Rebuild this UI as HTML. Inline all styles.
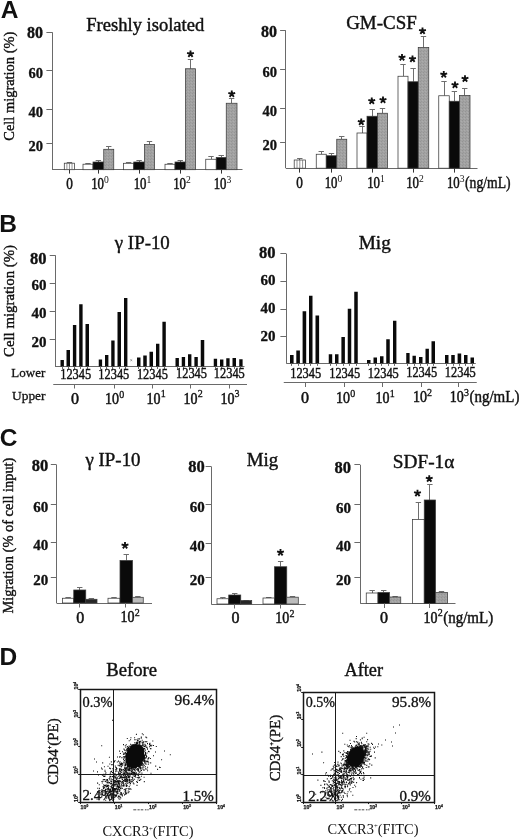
<!DOCTYPE html>
<html><head><meta charset="utf-8"><title>Figure</title>
<style>html,body{margin:0;padding:0;background:#fff}svg{display:block;filter:grayscale(1)}text{fill:#111}</style></head><body>
<svg width="520" height="840" viewBox="0 0 520 840">
<defs><pattern id="stip" width="3" height="3" patternUnits="userSpaceOnUse"><rect width="3" height="3" fill="#a2a2a2"/><rect x="0" y="0" width="1" height="1" fill="#949494"/><rect x="2" y="1" width="1" height="1" fill="#acacac"/><rect x="1" y="2" width="1" height="1" fill="#989898"/></pattern></defs>
<rect width="520" height="840" fill="#fff"/>
<text x="0.7" y="18.1" font-family='"Liberation Sans", sans-serif' font-size="24.5" font-weight="bold">A</text>
<text x="-0.8" y="231.8" font-family='"Liberation Sans", sans-serif' font-size="24.5" font-weight="bold">B</text>
<text x="-0.2" y="445.5" font-family='"Liberation Sans", sans-serif' font-size="24.5" font-weight="bold">C</text>
<text x="-0.5" y="664.6" font-family='"Liberation Sans", sans-serif' font-size="24.5" font-weight="bold">D</text>
<line x1="52.50" y1="32.20" x2="52.50" y2="169.70" stroke="#6a6a6a" stroke-width="1"/>
<line x1="46.40" y1="32.50" x2="52.20" y2="32.50" stroke="#6a6a6a" stroke-width="1"/>
<text x="43.00" y="38.16" font-family='"Liberation Serif", serif' font-size="16" font-weight="bold" text-anchor="end" stroke="#111" stroke-width="0.35">80</text>
<line x1="46.40" y1="70.50" x2="52.20" y2="70.50" stroke="#6a6a6a" stroke-width="1"/>
<text x="43.00" y="78.10" font-family='"Liberation Serif", serif' font-size="14.5" font-weight="bold" text-anchor="end" stroke="#111" stroke-width="0.32">60</text>
<line x1="46.40" y1="109.50" x2="52.20" y2="109.50" stroke="#6a6a6a" stroke-width="1"/>
<text x="43.00" y="116.60" font-family='"Liberation Serif", serif' font-size="14.5" font-weight="bold" text-anchor="end" stroke="#111" stroke-width="0.32">40</text>
<line x1="46.40" y1="143.50" x2="52.20" y2="143.50" stroke="#6a6a6a" stroke-width="1"/>
<text x="43.00" y="150.90" font-family='"Liberation Serif", serif' font-size="14.5" font-weight="bold" text-anchor="end" stroke="#111" stroke-width="0.32">20</text>
<line x1="52.00" y1="169.50" x2="242.50" y2="169.50" stroke="#6a6a6a" stroke-width="1"/>
<text transform="translate(14.40,86.20) rotate(-90)" font-family='"Liberation Serif", serif' font-size="15.5" font-weight="normal" text-anchor="middle" stroke="#111" stroke-width="0.4" textLength="109" lengthAdjust="spacingAndGlyphs">Cell migration (%)</text>
<text x="86.25" y="30.80" font-family='"Liberation Serif", serif' font-size="18.5" font-weight="normal" text-anchor="start" textLength="118" lengthAdjust="spacingAndGlyphs" stroke="#111" stroke-width="0.41">Freshly isolated</text>
<line x1="69.50" y1="162.00" x2="69.50" y2="163.20" stroke="#6e6e6e" stroke-width="1"/>
<line x1="66.75" y1="162.50" x2="72.15" y2="162.50" stroke="#6e6e6e" stroke-width="1"/>
<rect x="64.30" y="163.20" width="10.30" height="6.50" fill="#fff" stroke="#3a3a3a" stroke-width="0.75"/>
<line x1="66.88" y1="163.20" x2="66.88" y2="169.70" stroke="#666" stroke-width="0.7"/>
<line x1="69.45" y1="163.20" x2="69.45" y2="169.70" stroke="#666" stroke-width="0.7"/>
<line x1="72.02" y1="163.20" x2="72.02" y2="169.70" stroke="#666" stroke-width="0.7"/>
<line x1="88.50" y1="163.00" x2="88.50" y2="164.20" stroke="#6e6e6e" stroke-width="1"/>
<line x1="85.30" y1="163.50" x2="90.70" y2="163.50" stroke="#6e6e6e" stroke-width="1"/>
<rect x="83.00" y="164.20" width="10.00" height="5.50" fill="#fff" stroke="#3a3a3a" stroke-width="0.75"/>
<line x1="98.50" y1="160.50" x2="98.50" y2="162.00" stroke="#6e6e6e" stroke-width="1"/>
<line x1="95.67" y1="160.50" x2="101.08" y2="160.50" stroke="#6e6e6e" stroke-width="1"/>
<rect x="93.00" y="162.00" width="10.75" height="7.70" fill="#0a0a0a" stroke="#3a3a3a" stroke-width="0.75"/>
<line x1="108.50" y1="146.30" x2="108.50" y2="149.30" stroke="#6e6e6e" stroke-width="1"/>
<line x1="106.05" y1="146.50" x2="111.45" y2="146.50" stroke="#6e6e6e" stroke-width="1"/>
<rect x="103.75" y="149.30" width="10.00" height="20.40" fill="url(#stip)" stroke="#3a3a3a" stroke-width="0.75"/>
<line x1="128.50" y1="162.20" x2="128.50" y2="163.30" stroke="#6e6e6e" stroke-width="1"/>
<line x1="125.92" y1="162.50" x2="131.32" y2="162.50" stroke="#6e6e6e" stroke-width="1"/>
<rect x="123.50" y="163.30" width="10.25" height="6.40" fill="#fff" stroke="#3a3a3a" stroke-width="0.75"/>
<line x1="139.50" y1="160.50" x2="139.50" y2="162.00" stroke="#6e6e6e" stroke-width="1"/>
<line x1="136.43" y1="160.50" x2="141.82" y2="160.50" stroke="#6e6e6e" stroke-width="1"/>
<rect x="133.75" y="162.00" width="10.75" height="7.70" fill="#0a0a0a" stroke="#3a3a3a" stroke-width="0.75"/>
<line x1="149.50" y1="141.50" x2="149.50" y2="144.50" stroke="#6e6e6e" stroke-width="1"/>
<line x1="146.80" y1="141.50" x2="152.20" y2="141.50" stroke="#6e6e6e" stroke-width="1"/>
<rect x="144.50" y="144.50" width="10.00" height="25.20" fill="url(#stip)" stroke="#3a3a3a" stroke-width="0.75"/>
<line x1="170.50" y1="163.00" x2="170.50" y2="164.25" stroke="#6e6e6e" stroke-width="1"/>
<line x1="167.30" y1="163.50" x2="172.70" y2="163.50" stroke="#6e6e6e" stroke-width="1"/>
<rect x="165.00" y="164.25" width="10.00" height="5.45" fill="#fff" stroke="#3a3a3a" stroke-width="0.75"/>
<line x1="180.50" y1="160.50" x2="180.50" y2="162.00" stroke="#6e6e6e" stroke-width="1"/>
<line x1="177.55" y1="160.50" x2="182.95" y2="160.50" stroke="#6e6e6e" stroke-width="1"/>
<rect x="175.00" y="162.00" width="10.50" height="7.70" fill="#0a0a0a" stroke="#3a3a3a" stroke-width="0.75"/>
<line x1="190.50" y1="59.25" x2="190.50" y2="68.75" stroke="#6e6e6e" stroke-width="1"/>
<line x1="187.80" y1="59.50" x2="193.20" y2="59.50" stroke="#6e6e6e" stroke-width="1"/>
<rect x="185.50" y="68.75" width="10.00" height="100.95" fill="url(#stip)" stroke="#3a3a3a" stroke-width="0.75"/>
<line x1="211.50" y1="156.50" x2="211.50" y2="159.25" stroke="#6e6e6e" stroke-width="1"/>
<line x1="208.30" y1="156.50" x2="213.70" y2="156.50" stroke="#6e6e6e" stroke-width="1"/>
<rect x="205.75" y="159.25" width="10.50" height="10.45" fill="#fff" stroke="#3a3a3a" stroke-width="0.75"/>
<line x1="221.50" y1="155.00" x2="221.50" y2="157.50" stroke="#6e6e6e" stroke-width="1"/>
<line x1="218.55" y1="155.50" x2="223.95" y2="155.50" stroke="#6e6e6e" stroke-width="1"/>
<rect x="216.25" y="157.50" width="10.00" height="12.20" fill="#0a0a0a" stroke="#3a3a3a" stroke-width="0.75"/>
<line x1="231.50" y1="98.00" x2="231.50" y2="103.25" stroke="#6e6e6e" stroke-width="1"/>
<line x1="228.93" y1="98.50" x2="234.32" y2="98.50" stroke="#6e6e6e" stroke-width="1"/>
<rect x="226.25" y="103.25" width="10.75" height="66.45" fill="url(#stip)" stroke="#3a3a3a" stroke-width="0.75"/>
<line x1="69.50" y1="169.70" x2="69.50" y2="173.60" stroke="#333" stroke-width="1"/>
<line x1="98.50" y1="169.70" x2="98.50" y2="173.60" stroke="#333" stroke-width="1"/>
<line x1="139.50" y1="169.70" x2="139.50" y2="173.60" stroke="#333" stroke-width="1"/>
<line x1="180.50" y1="169.70" x2="180.50" y2="173.60" stroke="#333" stroke-width="1"/>
<line x1="221.50" y1="169.70" x2="221.50" y2="173.60" stroke="#333" stroke-width="1"/>
<text x="69.50" y="189.00" font-family='"Liberation Serif", serif' font-size="16" font-weight="normal" text-anchor="middle" textLength="6.6" lengthAdjust="spacingAndGlyphs" stroke="#111" stroke-width="0.51">0</text>
<text x="91.22" y="189.00" font-family='"Liberation Serif", serif' font-size="16" font-weight="normal" text-anchor="start" textLength="12.8" lengthAdjust="spacingAndGlyphs" stroke="#111" stroke-width="0.51">10</text>
<text x="104.12" y="182.76" font-family='"Liberation Serif", serif' font-size="9.5" font-weight="normal" text-anchor="start" textLength="4.8" lengthAdjust="spacingAndGlyphs">0</text>
<text x="133.72" y="189.00" font-family='"Liberation Serif", serif' font-size="16" font-weight="normal" text-anchor="start" textLength="12.8" lengthAdjust="spacingAndGlyphs" stroke="#111" stroke-width="0.51">10</text>
<text x="146.62" y="182.76" font-family='"Liberation Serif", serif' font-size="9.5" font-weight="normal" text-anchor="start" textLength="4.8" lengthAdjust="spacingAndGlyphs">1</text>
<text x="173.22" y="189.00" font-family='"Liberation Serif", serif' font-size="16" font-weight="normal" text-anchor="start" textLength="12.8" lengthAdjust="spacingAndGlyphs" stroke="#111" stroke-width="0.51">10</text>
<text x="186.12" y="182.76" font-family='"Liberation Serif", serif' font-size="9.5" font-weight="normal" text-anchor="start" textLength="4.8" lengthAdjust="spacingAndGlyphs">2</text>
<text x="213.72" y="189.00" font-family='"Liberation Serif", serif' font-size="16" font-weight="normal" text-anchor="start" textLength="12.8" lengthAdjust="spacingAndGlyphs" stroke="#111" stroke-width="0.51">10</text>
<text x="226.62" y="182.76" font-family='"Liberation Serif", serif' font-size="9.5" font-weight="normal" text-anchor="start" textLength="4.8" lengthAdjust="spacingAndGlyphs">3</text>
<path d="M190.50 54.00L190.50 50.40M190.50 54.00L193.92 52.89M190.50 54.00L192.62 56.91M190.50 54.00L188.38 56.91M190.50 54.00L187.08 52.89" stroke="#111" stroke-width="1.85" stroke-linecap="butt" fill="none"/>
<path d="M231.75 94.00L231.75 90.40M231.75 94.00L235.17 92.89M231.75 94.00L233.87 96.91M231.75 94.00L229.63 96.91M231.75 94.00L228.33 92.89" stroke="#111" stroke-width="1.85" stroke-linecap="butt" fill="none"/>
<line x1="285.50" y1="30.80" x2="285.50" y2="168.20" stroke="#6a6a6a" stroke-width="1"/>
<line x1="280.10" y1="30.50" x2="285.90" y2="30.50" stroke="#6a6a6a" stroke-width="1"/>
<text x="277.00" y="37.11" font-family='"Liberation Serif", serif' font-size="16" font-weight="bold" text-anchor="end" stroke="#111" stroke-width="0.35">80</text>
<line x1="280.10" y1="69.50" x2="285.90" y2="69.50" stroke="#6a6a6a" stroke-width="1"/>
<text x="277.00" y="76.90" font-family='"Liberation Serif", serif' font-size="14.5" font-weight="bold" text-anchor="end" stroke="#111" stroke-width="0.32">60</text>
<line x1="280.10" y1="108.50" x2="285.90" y2="108.50" stroke="#6a6a6a" stroke-width="1"/>
<text x="277.00" y="115.50" font-family='"Liberation Serif", serif' font-size="14.5" font-weight="bold" text-anchor="end" stroke="#111" stroke-width="0.32">40</text>
<line x1="280.10" y1="142.50" x2="285.90" y2="142.50" stroke="#6a6a6a" stroke-width="1"/>
<text x="277.00" y="149.90" font-family='"Liberation Serif", serif' font-size="14.5" font-weight="bold" text-anchor="end" stroke="#111" stroke-width="0.32">20</text>
<line x1="285.90" y1="168.50" x2="477.50" y2="168.50" stroke="#6a6a6a" stroke-width="1"/>
<text x="346.20" y="29.40" font-family='"Liberation Serif", serif' font-size="18.5" font-weight="normal" text-anchor="start" textLength="70.5" lengthAdjust="spacingAndGlyphs" stroke="#111" stroke-width="0.41">GM-CSF</text>
<line x1="299.50" y1="158.50" x2="299.50" y2="160.00" stroke="#6e6e6e" stroke-width="1"/>
<line x1="297.10" y1="158.50" x2="302.50" y2="158.50" stroke="#6e6e6e" stroke-width="1"/>
<rect x="294.20" y="160.00" width="11.20" height="8.20" fill="#fff" stroke="#3a3a3a" stroke-width="0.75"/>
<line x1="297.00" y1="160.00" x2="297.00" y2="168.20" stroke="#666" stroke-width="0.7"/>
<line x1="299.80" y1="160.00" x2="299.80" y2="168.20" stroke="#666" stroke-width="0.7"/>
<line x1="302.60" y1="160.00" x2="302.60" y2="168.20" stroke="#666" stroke-width="0.7"/>
<line x1="321.50" y1="151.50" x2="321.50" y2="154.25" stroke="#6e6e6e" stroke-width="1"/>
<line x1="318.55" y1="151.50" x2="323.95" y2="151.50" stroke="#6e6e6e" stroke-width="1"/>
<rect x="316.25" y="154.25" width="10.00" height="13.95" fill="#fff" stroke="#3a3a3a" stroke-width="0.75"/>
<line x1="331.50" y1="153.50" x2="331.50" y2="155.75" stroke="#6e6e6e" stroke-width="1"/>
<line x1="328.80" y1="153.50" x2="334.20" y2="153.50" stroke="#6e6e6e" stroke-width="1"/>
<rect x="326.25" y="155.75" width="10.50" height="12.45" fill="#0a0a0a" stroke="#3a3a3a" stroke-width="0.75"/>
<line x1="341.50" y1="136.00" x2="341.50" y2="139.25" stroke="#6e6e6e" stroke-width="1"/>
<line x1="339.05" y1="136.50" x2="344.45" y2="136.50" stroke="#6e6e6e" stroke-width="1"/>
<rect x="336.75" y="139.25" width="10.00" height="28.95" fill="url(#stip)" stroke="#3a3a3a" stroke-width="0.75"/>
<line x1="362.50" y1="126.50" x2="362.50" y2="133.00" stroke="#6e6e6e" stroke-width="1"/>
<line x1="359.30" y1="126.50" x2="364.70" y2="126.50" stroke="#6e6e6e" stroke-width="1"/>
<rect x="357.00" y="133.00" width="10.00" height="35.20" fill="#fff" stroke="#3a3a3a" stroke-width="0.75"/>
<line x1="372.50" y1="109.00" x2="372.50" y2="116.25" stroke="#6e6e6e" stroke-width="1"/>
<line x1="369.55" y1="109.50" x2="374.95" y2="109.50" stroke="#6e6e6e" stroke-width="1"/>
<rect x="367.00" y="116.25" width="10.50" height="51.95" fill="#0a0a0a" stroke="#3a3a3a" stroke-width="0.75"/>
<line x1="382.50" y1="108.00" x2="382.50" y2="113.25" stroke="#6e6e6e" stroke-width="1"/>
<line x1="379.80" y1="108.50" x2="385.20" y2="108.50" stroke="#6e6e6e" stroke-width="1"/>
<rect x="377.50" y="113.25" width="10.00" height="54.95" fill="url(#stip)" stroke="#3a3a3a" stroke-width="0.75"/>
<line x1="403.50" y1="64.50" x2="403.50" y2="76.25" stroke="#6e6e6e" stroke-width="1"/>
<line x1="400.30" y1="64.50" x2="405.70" y2="64.50" stroke="#6e6e6e" stroke-width="1"/>
<rect x="398.00" y="76.25" width="10.00" height="91.95" fill="#fff" stroke="#3a3a3a" stroke-width="0.75"/>
<line x1="413.50" y1="68.00" x2="413.50" y2="81.75" stroke="#6e6e6e" stroke-width="1"/>
<line x1="410.43" y1="68.50" x2="415.82" y2="68.50" stroke="#6e6e6e" stroke-width="1"/>
<rect x="408.00" y="81.75" width="10.25" height="86.45" fill="#0a0a0a" stroke="#3a3a3a" stroke-width="0.75"/>
<line x1="423.50" y1="36.25" x2="423.50" y2="47.50" stroke="#6e6e6e" stroke-width="1"/>
<line x1="420.80" y1="36.50" x2="426.20" y2="36.50" stroke="#6e6e6e" stroke-width="1"/>
<rect x="418.25" y="47.50" width="10.50" height="120.70" fill="url(#stip)" stroke="#3a3a3a" stroke-width="0.75"/>
<line x1="444.50" y1="81.25" x2="444.50" y2="95.75" stroke="#6e6e6e" stroke-width="1"/>
<line x1="441.30" y1="81.50" x2="446.70" y2="81.50" stroke="#6e6e6e" stroke-width="1"/>
<rect x="438.75" y="95.75" width="10.50" height="72.45" fill="#fff" stroke="#3a3a3a" stroke-width="0.75"/>
<line x1="454.50" y1="91.75" x2="454.50" y2="101.25" stroke="#6e6e6e" stroke-width="1"/>
<line x1="451.68" y1="91.50" x2="457.07" y2="91.50" stroke="#6e6e6e" stroke-width="1"/>
<rect x="449.25" y="101.25" width="10.25" height="66.95" fill="#0a0a0a" stroke="#3a3a3a" stroke-width="0.75"/>
<line x1="464.50" y1="88.00" x2="464.50" y2="95.50" stroke="#6e6e6e" stroke-width="1"/>
<line x1="462.05" y1="88.50" x2="467.45" y2="88.50" stroke="#6e6e6e" stroke-width="1"/>
<rect x="459.50" y="95.50" width="10.50" height="72.70" fill="url(#stip)" stroke="#3a3a3a" stroke-width="0.75"/>
<line x1="299.50" y1="168.20" x2="299.50" y2="172.60" stroke="#333" stroke-width="1"/>
<line x1="331.50" y1="168.20" x2="331.50" y2="172.60" stroke="#333" stroke-width="1"/>
<line x1="372.50" y1="168.20" x2="372.50" y2="172.60" stroke="#333" stroke-width="1"/>
<line x1="413.50" y1="168.20" x2="413.50" y2="172.60" stroke="#333" stroke-width="1"/>
<line x1="454.50" y1="168.20" x2="454.50" y2="172.60" stroke="#333" stroke-width="1"/>
<text x="299.60" y="188.00" font-family='"Liberation Serif", serif' font-size="16" font-weight="normal" text-anchor="middle" textLength="6.6" lengthAdjust="spacingAndGlyphs" stroke="#111" stroke-width="0.51">0</text>
<text x="324.72" y="188.00" font-family='"Liberation Serif", serif' font-size="16" font-weight="normal" text-anchor="start" textLength="12.8" lengthAdjust="spacingAndGlyphs" stroke="#111" stroke-width="0.51">10</text>
<text x="337.62" y="181.76" font-family='"Liberation Serif", serif' font-size="9.5" font-weight="normal" text-anchor="start" textLength="4.8" lengthAdjust="spacingAndGlyphs">0</text>
<text x="367.22" y="188.00" font-family='"Liberation Serif", serif' font-size="16" font-weight="normal" text-anchor="start" textLength="12.8" lengthAdjust="spacingAndGlyphs" stroke="#111" stroke-width="0.51">10</text>
<text x="380.12" y="181.76" font-family='"Liberation Serif", serif' font-size="9.5" font-weight="normal" text-anchor="start" textLength="4.8" lengthAdjust="spacingAndGlyphs">1</text>
<text x="406.22" y="188.00" font-family='"Liberation Serif", serif' font-size="16" font-weight="normal" text-anchor="start" textLength="12.8" lengthAdjust="spacingAndGlyphs" stroke="#111" stroke-width="0.51">10</text>
<text x="419.12" y="181.76" font-family='"Liberation Serif", serif' font-size="9.5" font-weight="normal" text-anchor="start" textLength="4.8" lengthAdjust="spacingAndGlyphs">2</text>
<text x="446.92" y="188.00" font-family='"Liberation Serif", serif' font-size="16" font-weight="normal" text-anchor="start" textLength="12.8" lengthAdjust="spacingAndGlyphs" stroke="#111" stroke-width="0.51">10</text>
<text x="459.82" y="181.76" font-family='"Liberation Serif", serif' font-size="9.5" font-weight="normal" text-anchor="start" textLength="4.8" lengthAdjust="spacingAndGlyphs">3</text>
<text x="465.07" y="188.00" font-family='"Liberation Serif", serif' font-size="16" font-weight="normal" text-anchor="start" textLength="45.5" lengthAdjust="spacingAndGlyphs" stroke="#111" stroke-width="0.42">(ng/mL)</text>
<path d="M361.25 122.00L361.25 118.40M361.25 122.00L364.67 120.89M361.25 122.00L363.37 124.91M361.25 122.00L359.13 124.91M361.25 122.00L357.83 120.89" stroke="#111" stroke-width="1.85" stroke-linecap="butt" fill="none"/>
<path d="M371.75 101.00L371.75 97.40M371.75 101.00L375.17 99.89M371.75 101.00L373.87 103.91M371.75 101.00L369.63 103.91M371.75 101.00L368.33 99.89" stroke="#111" stroke-width="1.85" stroke-linecap="butt" fill="none"/>
<path d="M383.00 100.00L383.00 96.40M383.00 100.00L386.42 98.89M383.00 100.00L385.12 102.91M383.00 100.00L380.88 102.91M383.00 100.00L379.58 98.89" stroke="#111" stroke-width="1.85" stroke-linecap="butt" fill="none"/>
<path d="M402.00 57.50L402.00 53.90M402.00 57.50L405.42 56.39M402.00 57.50L404.12 60.41M402.00 57.50L399.88 60.41M402.00 57.50L398.58 56.39" stroke="#111" stroke-width="1.85" stroke-linecap="butt" fill="none"/>
<path d="M412.50 59.00L412.50 55.40M412.50 59.00L415.92 57.89M412.50 59.00L414.62 61.91M412.50 59.00L410.38 61.91M412.50 59.00L409.08 57.89" stroke="#111" stroke-width="1.85" stroke-linecap="butt" fill="none"/>
<path d="M422.50 31.00L422.50 27.40M422.50 31.00L425.92 29.89M422.50 31.00L424.62 33.91M422.50 31.00L420.38 33.91M422.50 31.00L419.08 29.89" stroke="#111" stroke-width="1.85" stroke-linecap="butt" fill="none"/>
<path d="M443.75 74.50L443.75 70.90M443.75 74.50L447.17 73.39M443.75 74.50L445.87 77.41M443.75 74.50L441.63 77.41M443.75 74.50L440.33 73.39" stroke="#111" stroke-width="1.85" stroke-linecap="butt" fill="none"/>
<path d="M455.00 85.00L455.00 81.40M455.00 85.00L458.42 83.89M455.00 85.00L457.12 87.91M455.00 85.00L452.88 87.91M455.00 85.00L451.58 83.89" stroke="#111" stroke-width="1.85" stroke-linecap="butt" fill="none"/>
<path d="M465.00 78.75L465.00 75.15M465.00 78.75L468.42 77.64M465.00 78.75L467.12 81.66M465.00 78.75L462.88 81.66M465.00 78.75L461.58 77.64" stroke="#111" stroke-width="1.85" stroke-linecap="butt" fill="none"/>
<line x1="55.50" y1="255.30" x2="55.50" y2="367.00" stroke="#6a6a6a" stroke-width="1"/>
<line x1="49.70" y1="255.50" x2="55.50" y2="255.50" stroke="#6a6a6a" stroke-width="1"/>
<text x="46.60" y="263.78" font-family='"Liberation Serif", serif' font-size="16.5" font-weight="bold" text-anchor="end" stroke="#111" stroke-width="0.36">80</text>
<line x1="49.70" y1="283.50" x2="55.50" y2="283.50" stroke="#6a6a6a" stroke-width="1"/>
<text x="46.60" y="290.27" font-family='"Liberation Serif", serif' font-size="15" font-weight="bold" text-anchor="end" stroke="#111" stroke-width="0.33">60</text>
<line x1="49.70" y1="311.50" x2="55.50" y2="311.50" stroke="#6a6a6a" stroke-width="1"/>
<text x="46.60" y="317.82" font-family='"Liberation Serif", serif' font-size="15" font-weight="bold" text-anchor="end" stroke="#111" stroke-width="0.33">40</text>
<line x1="49.70" y1="339.50" x2="55.50" y2="339.50" stroke="#6a6a6a" stroke-width="1"/>
<text x="46.60" y="346.57" font-family='"Liberation Serif", serif' font-size="15" font-weight="bold" text-anchor="end" stroke="#111" stroke-width="0.33">20</text>
<line x1="55.00" y1="366.50" x2="244.50" y2="366.50" stroke="#6a6a6a" stroke-width="1"/>
<text transform="translate(13.80,301.00) rotate(-90)" font-family='"Liberation Serif", serif' font-size="15.5" font-weight="normal" text-anchor="middle" stroke="#111" stroke-width="0.4" textLength="112" lengthAdjust="spacingAndGlyphs">Cell migration (%)</text>
<text x="114.80" y="249.30" font-family='"Liberation Serif", serif' font-size="18" font-weight="normal" text-anchor="start" textLength="55" lengthAdjust="spacingAndGlyphs" stroke="#111" stroke-width="0.40">γ IP-10</text>
<rect x="60.50" y="360.00" width="3.40" height="6.50" fill="#0a0a0a"/>
<line x1="62.50" y1="366.50" x2="62.50" y2="369.00" stroke="#6a6a6a" stroke-width="1"/>
<rect x="66.50" y="350.00" width="3.50" height="16.50" fill="#0a0a0a"/>
<line x1="68.50" y1="366.50" x2="68.50" y2="369.00" stroke="#6a6a6a" stroke-width="1"/>
<rect x="72.90" y="325.00" width="3.40" height="41.50" fill="#0a0a0a"/>
<line x1="74.50" y1="366.50" x2="74.50" y2="369.00" stroke="#6a6a6a" stroke-width="1"/>
<rect x="79.20" y="304.25" width="3.40" height="62.25" fill="#0a0a0a"/>
<line x1="80.50" y1="366.50" x2="80.50" y2="369.00" stroke="#6a6a6a" stroke-width="1"/>
<rect x="85.50" y="324.00" width="3.50" height="42.50" fill="#0a0a0a"/>
<line x1="87.50" y1="366.50" x2="87.50" y2="369.00" stroke="#6a6a6a" stroke-width="1"/>
<rect x="98.75" y="359.50" width="3.35" height="7.00" fill="#0a0a0a"/>
<line x1="100.50" y1="366.50" x2="100.50" y2="369.00" stroke="#6a6a6a" stroke-width="1"/>
<rect x="105.00" y="355.00" width="3.40" height="11.50" fill="#0a0a0a"/>
<line x1="106.50" y1="366.50" x2="106.50" y2="369.00" stroke="#6a6a6a" stroke-width="1"/>
<rect x="111.25" y="340.50" width="3.35" height="26.00" fill="#0a0a0a"/>
<line x1="112.50" y1="366.50" x2="112.50" y2="369.00" stroke="#6a6a6a" stroke-width="1"/>
<rect x="117.50" y="312.00" width="3.50" height="54.50" fill="#0a0a0a"/>
<line x1="119.50" y1="366.50" x2="119.50" y2="369.00" stroke="#6a6a6a" stroke-width="1"/>
<rect x="124.00" y="298.00" width="3.40" height="68.50" fill="#0a0a0a"/>
<line x1="125.50" y1="366.50" x2="125.50" y2="369.00" stroke="#6a6a6a" stroke-width="1"/>
<rect x="137.00" y="357.50" width="3.50" height="9.00" fill="#0a0a0a"/>
<line x1="138.50" y1="366.50" x2="138.50" y2="369.00" stroke="#6a6a6a" stroke-width="1"/>
<rect x="143.25" y="355.50" width="3.50" height="11.00" fill="#0a0a0a"/>
<line x1="145.50" y1="366.50" x2="145.50" y2="369.00" stroke="#6a6a6a" stroke-width="1"/>
<rect x="149.50" y="351.75" width="3.50" height="14.75" fill="#0a0a0a"/>
<line x1="151.50" y1="366.50" x2="151.50" y2="369.00" stroke="#6a6a6a" stroke-width="1"/>
<rect x="156.00" y="343.75" width="3.40" height="22.75" fill="#0a0a0a"/>
<line x1="157.50" y1="366.50" x2="157.50" y2="369.00" stroke="#6a6a6a" stroke-width="1"/>
<rect x="162.40" y="321.75" width="3.40" height="44.75" fill="#0a0a0a"/>
<line x1="164.50" y1="366.50" x2="164.50" y2="369.00" stroke="#6a6a6a" stroke-width="1"/>
<rect x="175.50" y="358.00" width="3.40" height="8.50" fill="#0a0a0a"/>
<line x1="177.50" y1="366.50" x2="177.50" y2="369.00" stroke="#6a6a6a" stroke-width="1"/>
<rect x="181.75" y="357.00" width="3.35" height="9.50" fill="#0a0a0a"/>
<line x1="183.50" y1="366.50" x2="183.50" y2="369.00" stroke="#6a6a6a" stroke-width="1"/>
<rect x="188.00" y="354.25" width="3.40" height="12.25" fill="#0a0a0a"/>
<line x1="189.50" y1="366.50" x2="189.50" y2="369.00" stroke="#6a6a6a" stroke-width="1"/>
<rect x="194.40" y="357.00" width="3.40" height="9.50" fill="#0a0a0a"/>
<line x1="196.50" y1="366.50" x2="196.50" y2="369.00" stroke="#6a6a6a" stroke-width="1"/>
<rect x="200.75" y="340.00" width="3.50" height="26.50" fill="#0a0a0a"/>
<line x1="202.50" y1="366.50" x2="202.50" y2="369.00" stroke="#6a6a6a" stroke-width="1"/>
<rect x="213.75" y="358.75" width="3.35" height="7.75" fill="#0a0a0a"/>
<line x1="215.50" y1="366.50" x2="215.50" y2="369.00" stroke="#6a6a6a" stroke-width="1"/>
<rect x="220.00" y="359.50" width="3.40" height="7.00" fill="#0a0a0a"/>
<line x1="221.50" y1="366.50" x2="221.50" y2="369.00" stroke="#6a6a6a" stroke-width="1"/>
<rect x="226.25" y="358.25" width="3.35" height="8.25" fill="#0a0a0a"/>
<line x1="227.50" y1="366.50" x2="227.50" y2="369.00" stroke="#6a6a6a" stroke-width="1"/>
<rect x="232.50" y="358.00" width="3.50" height="8.50" fill="#0a0a0a"/>
<line x1="234.50" y1="366.50" x2="234.50" y2="369.00" stroke="#6a6a6a" stroke-width="1"/>
<rect x="239.25" y="359.25" width="3.35" height="7.25" fill="#0a0a0a"/>
<line x1="240.50" y1="366.50" x2="240.50" y2="369.00" stroke="#6a6a6a" stroke-width="1"/>
<path d="M130.4 359.4l1.8 1.6m0 -1.6l-1.8 1.6" stroke="#777" stroke-width="0.7" fill="none"/>
<text x="11.30" y="377.00" font-family='"Liberation Serif", serif' font-size="13" font-weight="normal" text-anchor="start" textLength="34" lengthAdjust="spacingAndGlyphs" stroke="#111" stroke-width="0.29">Lower</text>
<text x="12.00" y="400.00" font-family='"Liberation Serif", serif' font-size="13" font-weight="normal" text-anchor="start" textLength="33.5" lengthAdjust="spacingAndGlyphs" stroke="#111" stroke-width="0.29">Upper</text>
<text x="60.20" y="379.20" font-family='"Liberation Serif", serif' font-size="13.6" font-weight="normal" text-anchor="start" textLength="31" lengthAdjust="spacingAndGlyphs" stroke="#111" stroke-width="0.41">12345</text>
<text x="98.30" y="379.00" font-family='"Liberation Serif", serif' font-size="13.6" font-weight="normal" text-anchor="start" textLength="31" lengthAdjust="spacingAndGlyphs" stroke="#111" stroke-width="0.41">12345</text>
<text x="136.90" y="378.60" font-family='"Liberation Serif", serif' font-size="13.6" font-weight="normal" text-anchor="start" textLength="31" lengthAdjust="spacingAndGlyphs" stroke="#111" stroke-width="0.41">12345</text>
<text x="176.00" y="378.30" font-family='"Liberation Serif", serif' font-size="13.6" font-weight="normal" text-anchor="start" textLength="31" lengthAdjust="spacingAndGlyphs" stroke="#111" stroke-width="0.41">12345</text>
<text x="213.80" y="378.20" font-family='"Liberation Serif", serif' font-size="13.6" font-weight="normal" text-anchor="start" textLength="31" lengthAdjust="spacingAndGlyphs" stroke="#111" stroke-width="0.41">12345</text>
<line x1="53.25" y1="384.50" x2="247.00" y2="384.50" stroke="#6a6a6a" stroke-width="1"/>
<line x1="74.50" y1="384.00" x2="74.50" y2="388.50" stroke="#6a6a6a" stroke-width="1"/>
<line x1="114.50" y1="384.00" x2="114.50" y2="388.50" stroke="#6a6a6a" stroke-width="1"/>
<line x1="152.50" y1="384.00" x2="152.50" y2="388.50" stroke="#6a6a6a" stroke-width="1"/>
<line x1="190.50" y1="384.00" x2="190.50" y2="388.50" stroke="#6a6a6a" stroke-width="1"/>
<line x1="229.50" y1="384.00" x2="229.50" y2="388.50" stroke="#6a6a6a" stroke-width="1"/>
<text x="75.00" y="403.75" font-family='"Liberation Serif", serif' font-size="16" font-weight="normal" text-anchor="middle" stroke="#111" stroke-width="0.51">0</text>
<text x="105.10" y="403.75" font-family='"Liberation Serif", serif' font-size="16" font-weight="normal" text-anchor="start" textLength="14" lengthAdjust="spacingAndGlyphs" stroke="#111" stroke-width="0.51">10</text>
<text x="119.20" y="397.51" font-family='"Liberation Serif", serif' font-size="10" font-weight="normal" text-anchor="start" textLength="5.0" lengthAdjust="spacingAndGlyphs" stroke="#111" stroke-width="0.30">0</text>
<text x="146.60" y="403.50" font-family='"Liberation Serif", serif' font-size="16" font-weight="normal" text-anchor="start" textLength="14" lengthAdjust="spacingAndGlyphs" stroke="#111" stroke-width="0.51">10</text>
<text x="160.70" y="397.26" font-family='"Liberation Serif", serif' font-size="10" font-weight="normal" text-anchor="start" textLength="5.0" lengthAdjust="spacingAndGlyphs" stroke="#111" stroke-width="0.30">1</text>
<text x="183.60" y="403.50" font-family='"Liberation Serif", serif' font-size="16" font-weight="normal" text-anchor="start" textLength="14" lengthAdjust="spacingAndGlyphs" stroke="#111" stroke-width="0.51">10</text>
<text x="197.70" y="397.26" font-family='"Liberation Serif", serif' font-size="10" font-weight="normal" text-anchor="start" textLength="5.0" lengthAdjust="spacingAndGlyphs" stroke="#111" stroke-width="0.30">2</text>
<text x="220.50" y="403.50" font-family='"Liberation Serif", serif' font-size="16" font-weight="normal" text-anchor="start" textLength="14" lengthAdjust="spacingAndGlyphs" stroke="#111" stroke-width="0.51">10</text>
<text x="234.60" y="397.26" font-family='"Liberation Serif", serif' font-size="10" font-weight="normal" text-anchor="start" textLength="5.0" lengthAdjust="spacingAndGlyphs" stroke="#111" stroke-width="0.30">3</text>
<line x1="286.50" y1="253.70" x2="286.50" y2="363.40" stroke="#6a6a6a" stroke-width="1"/>
<line x1="280.40" y1="253.50" x2="286.20" y2="253.50" stroke="#6a6a6a" stroke-width="1"/>
<text x="275.60" y="258.08" font-family='"Liberation Serif", serif' font-size="16.5" font-weight="bold" text-anchor="end" stroke="#111" stroke-width="0.36">80</text>
<line x1="280.40" y1="281.50" x2="286.20" y2="281.50" stroke="#6a6a6a" stroke-width="1"/>
<text x="275.60" y="284.87" font-family='"Liberation Serif", serif' font-size="15" font-weight="bold" text-anchor="end" stroke="#111" stroke-width="0.33">60</text>
<line x1="280.40" y1="309.50" x2="286.20" y2="309.50" stroke="#6a6a6a" stroke-width="1"/>
<text x="275.60" y="312.57" font-family='"Liberation Serif", serif' font-size="15" font-weight="bold" text-anchor="end" stroke="#111" stroke-width="0.33">40</text>
<line x1="280.40" y1="336.50" x2="286.20" y2="336.50" stroke="#6a6a6a" stroke-width="1"/>
<text x="275.60" y="340.87" font-family='"Liberation Serif", serif' font-size="15" font-weight="bold" text-anchor="end" stroke="#111" stroke-width="0.33">20</text>
<line x1="286.25" y1="363.50" x2="475.75" y2="363.50" stroke="#6a6a6a" stroke-width="1"/>
<text x="358.80" y="248.70" font-family='"Liberation Serif", serif' font-size="18" font-weight="normal" text-anchor="start" textLength="32" lengthAdjust="spacingAndGlyphs" stroke="#111" stroke-width="0.40">Mig</text>
<rect x="290.00" y="355.00" width="3.60" height="8.40" fill="#0a0a0a"/>
<line x1="291.50" y1="363.40" x2="291.50" y2="365.90" stroke="#6a6a6a" stroke-width="1"/>
<rect x="296.30" y="350.50" width="3.60" height="12.90" fill="#0a0a0a"/>
<line x1="298.50" y1="363.40" x2="298.50" y2="365.90" stroke="#6a6a6a" stroke-width="1"/>
<rect x="302.60" y="311.25" width="3.60" height="52.15" fill="#0a0a0a"/>
<line x1="304.50" y1="363.40" x2="304.50" y2="365.90" stroke="#6a6a6a" stroke-width="1"/>
<rect x="309.00" y="295.75" width="3.50" height="67.65" fill="#0a0a0a"/>
<line x1="310.50" y1="363.40" x2="310.50" y2="365.90" stroke="#6a6a6a" stroke-width="1"/>
<rect x="315.50" y="315.50" width="3.60" height="47.90" fill="#0a0a0a"/>
<line x1="317.50" y1="363.40" x2="317.50" y2="365.90" stroke="#6a6a6a" stroke-width="1"/>
<rect x="328.75" y="354.25" width="3.45" height="9.15" fill="#0a0a0a"/>
<line x1="330.50" y1="363.40" x2="330.50" y2="365.90" stroke="#6a6a6a" stroke-width="1"/>
<rect x="335.00" y="354.25" width="3.50" height="9.15" fill="#0a0a0a"/>
<line x1="336.50" y1="363.40" x2="336.50" y2="365.90" stroke="#6a6a6a" stroke-width="1"/>
<rect x="341.40" y="337.00" width="3.50" height="26.40" fill="#0a0a0a"/>
<line x1="343.50" y1="363.40" x2="343.50" y2="365.90" stroke="#6a6a6a" stroke-width="1"/>
<rect x="347.75" y="308.75" width="3.50" height="54.65" fill="#0a0a0a"/>
<line x1="349.50" y1="363.40" x2="349.50" y2="365.90" stroke="#6a6a6a" stroke-width="1"/>
<rect x="354.25" y="291.75" width="3.50" height="71.65" fill="#0a0a0a"/>
<line x1="356.50" y1="363.40" x2="356.50" y2="365.90" stroke="#6a6a6a" stroke-width="1"/>
<rect x="367.00" y="360.00" width="3.50" height="3.40" fill="#0a0a0a"/>
<line x1="368.50" y1="363.40" x2="368.50" y2="365.90" stroke="#6a6a6a" stroke-width="1"/>
<rect x="373.50" y="357.50" width="3.50" height="5.90" fill="#0a0a0a"/>
<line x1="375.50" y1="363.40" x2="375.50" y2="365.90" stroke="#6a6a6a" stroke-width="1"/>
<rect x="380.00" y="356.25" width="3.50" height="7.15" fill="#0a0a0a"/>
<line x1="381.50" y1="363.40" x2="381.50" y2="365.90" stroke="#6a6a6a" stroke-width="1"/>
<rect x="386.25" y="339.25" width="3.50" height="24.15" fill="#0a0a0a"/>
<line x1="388.50" y1="363.40" x2="388.50" y2="365.90" stroke="#6a6a6a" stroke-width="1"/>
<rect x="393.00" y="320.75" width="3.40" height="42.65" fill="#0a0a0a"/>
<line x1="394.50" y1="363.40" x2="394.50" y2="365.90" stroke="#6a6a6a" stroke-width="1"/>
<rect x="406.25" y="353.00" width="3.35" height="10.40" fill="#0a0a0a"/>
<line x1="407.50" y1="363.40" x2="407.50" y2="365.90" stroke="#6a6a6a" stroke-width="1"/>
<rect x="412.50" y="355.75" width="3.40" height="7.65" fill="#0a0a0a"/>
<line x1="414.50" y1="363.40" x2="414.50" y2="365.90" stroke="#6a6a6a" stroke-width="1"/>
<rect x="419.00" y="357.00" width="3.50" height="6.40" fill="#0a0a0a"/>
<line x1="420.50" y1="363.40" x2="420.50" y2="365.90" stroke="#6a6a6a" stroke-width="1"/>
<rect x="425.50" y="348.75" width="3.40" height="14.65" fill="#0a0a0a"/>
<line x1="427.50" y1="363.40" x2="427.50" y2="365.90" stroke="#6a6a6a" stroke-width="1"/>
<rect x="431.50" y="341.25" width="3.50" height="22.15" fill="#0a0a0a"/>
<line x1="433.50" y1="363.40" x2="433.50" y2="365.90" stroke="#6a6a6a" stroke-width="1"/>
<rect x="445.00" y="355.00" width="3.50" height="8.40" fill="#0a0a0a"/>
<line x1="446.50" y1="363.40" x2="446.50" y2="365.90" stroke="#6a6a6a" stroke-width="1"/>
<rect x="451.25" y="355.00" width="3.50" height="8.40" fill="#0a0a0a"/>
<line x1="453.50" y1="363.40" x2="453.50" y2="365.90" stroke="#6a6a6a" stroke-width="1"/>
<rect x="457.60" y="353.50" width="3.60" height="9.90" fill="#0a0a0a"/>
<line x1="459.50" y1="363.40" x2="459.50" y2="365.90" stroke="#6a6a6a" stroke-width="1"/>
<rect x="464.00" y="355.00" width="3.50" height="8.40" fill="#0a0a0a"/>
<line x1="465.50" y1="363.40" x2="465.50" y2="365.90" stroke="#6a6a6a" stroke-width="1"/>
<rect x="470.50" y="357.50" width="3.50" height="5.90" fill="#0a0a0a"/>
<line x1="472.50" y1="363.40" x2="472.50" y2="365.90" stroke="#6a6a6a" stroke-width="1"/>
<text x="290.20" y="378.00" font-family='"Liberation Serif", serif' font-size="13.6" font-weight="normal" text-anchor="start" textLength="31" lengthAdjust="spacingAndGlyphs" stroke="#111" stroke-width="0.41">12345</text>
<text x="329.20" y="377.80" font-family='"Liberation Serif", serif' font-size="13.6" font-weight="normal" text-anchor="start" textLength="31" lengthAdjust="spacingAndGlyphs" stroke="#111" stroke-width="0.41">12345</text>
<text x="367.80" y="377.50" font-family='"Liberation Serif", serif' font-size="13.6" font-weight="normal" text-anchor="start" textLength="31" lengthAdjust="spacingAndGlyphs" stroke="#111" stroke-width="0.41">12345</text>
<text x="406.20" y="377.20" font-family='"Liberation Serif", serif' font-size="13.6" font-weight="normal" text-anchor="start" textLength="31" lengthAdjust="spacingAndGlyphs" stroke="#111" stroke-width="0.41">12345</text>
<text x="444.80" y="377.00" font-family='"Liberation Serif", serif' font-size="13.6" font-weight="normal" text-anchor="start" textLength="31" lengthAdjust="spacingAndGlyphs" stroke="#111" stroke-width="0.41">12345</text>
<line x1="283.75" y1="382.50" x2="476.75" y2="382.50" stroke="#6a6a6a" stroke-width="1"/>
<line x1="305.50" y1="382.50" x2="305.50" y2="387.00" stroke="#6a6a6a" stroke-width="1"/>
<line x1="344.50" y1="382.50" x2="344.50" y2="387.00" stroke="#6a6a6a" stroke-width="1"/>
<line x1="382.50" y1="382.50" x2="382.50" y2="387.00" stroke="#6a6a6a" stroke-width="1"/>
<line x1="421.50" y1="382.50" x2="421.50" y2="387.00" stroke="#6a6a6a" stroke-width="1"/>
<line x1="458.50" y1="382.50" x2="458.50" y2="387.00" stroke="#6a6a6a" stroke-width="1"/>
<text x="305.00" y="403.00" font-family='"Liberation Serif", serif' font-size="16" font-weight="normal" text-anchor="middle" stroke="#111" stroke-width="0.51">0</text>
<text x="336.10" y="403.00" font-family='"Liberation Serif", serif' font-size="16" font-weight="normal" text-anchor="start" textLength="14" lengthAdjust="spacingAndGlyphs" stroke="#111" stroke-width="0.51">10</text>
<text x="350.20" y="396.76" font-family='"Liberation Serif", serif' font-size="10" font-weight="normal" text-anchor="start" textLength="5.0" lengthAdjust="spacingAndGlyphs" stroke="#111" stroke-width="0.30">0</text>
<text x="375.60" y="403.00" font-family='"Liberation Serif", serif' font-size="16" font-weight="normal" text-anchor="start" textLength="14" lengthAdjust="spacingAndGlyphs" stroke="#111" stroke-width="0.51">10</text>
<text x="389.70" y="396.76" font-family='"Liberation Serif", serif' font-size="10" font-weight="normal" text-anchor="start" textLength="5.0" lengthAdjust="spacingAndGlyphs" stroke="#111" stroke-width="0.30">1</text>
<text x="412.90" y="402.30" font-family='"Liberation Serif", serif' font-size="16" font-weight="normal" text-anchor="start" textLength="14" lengthAdjust="spacingAndGlyphs" stroke="#111" stroke-width="0.51">10</text>
<text x="427.00" y="396.06" font-family='"Liberation Serif", serif' font-size="10" font-weight="normal" text-anchor="start" textLength="5.0" lengthAdjust="spacingAndGlyphs" stroke="#111" stroke-width="0.30">2</text>
<text x="449.80" y="402.30" font-family='"Liberation Serif", serif' font-size="16" font-weight="normal" text-anchor="start" textLength="14" lengthAdjust="spacingAndGlyphs" stroke="#111" stroke-width="0.51">10</text>
<text x="463.90" y="396.06" font-family='"Liberation Serif", serif' font-size="10" font-weight="normal" text-anchor="start" textLength="5.0" lengthAdjust="spacingAndGlyphs" stroke="#111" stroke-width="0.30">3</text>
<text x="469.40" y="402.30" font-family='"Liberation Serif", serif' font-size="16" font-weight="normal" text-anchor="start" textLength="50" lengthAdjust="spacingAndGlyphs" stroke="#111" stroke-width="0.42">(ng/mL)</text>
<text transform="translate(12.50,535.60) rotate(-90)" font-family='"Liberation Serif", serif' font-size="14.5" font-weight="normal" text-anchor="middle" stroke="#111" stroke-width="0.4" textLength="156" lengthAdjust="spacingAndGlyphs">Migration (% of cell input)</text>
<line x1="56.50" y1="464.90" x2="56.50" y2="603.25" stroke="#6a6a6a" stroke-width="1"/>
<line x1="50.80" y1="464.50" x2="56.60" y2="464.50" stroke="#6a6a6a" stroke-width="1"/>
<text x="48.30" y="471.48" font-family='"Liberation Serif", serif' font-size="16.5" font-weight="bold" text-anchor="end" stroke="#111" stroke-width="0.36">80</text>
<line x1="50.80" y1="504.50" x2="56.60" y2="504.50" stroke="#6a6a6a" stroke-width="1"/>
<text x="48.30" y="511.97" font-family='"Liberation Serif", serif' font-size="15" font-weight="bold" text-anchor="end" stroke="#111" stroke-width="0.33">60</text>
<line x1="50.80" y1="542.50" x2="56.60" y2="542.50" stroke="#6a6a6a" stroke-width="1"/>
<text x="48.30" y="550.17" font-family='"Liberation Serif", serif' font-size="15" font-weight="bold" text-anchor="end" stroke="#111" stroke-width="0.33">40</text>
<line x1="50.80" y1="577.50" x2="56.60" y2="577.50" stroke="#6a6a6a" stroke-width="1"/>
<text x="48.30" y="585.07" font-family='"Liberation Serif", serif' font-size="15" font-weight="bold" text-anchor="end" stroke="#111" stroke-width="0.33">20</text>
<line x1="56.75" y1="603.50" x2="152.00" y2="603.50" stroke="#6a6a6a" stroke-width="1"/>
<text x="85.50" y="466.30" font-family='"Liberation Serif", serif' font-size="18" font-weight="normal" text-anchor="start" textLength="55" lengthAdjust="spacingAndGlyphs" stroke="#111" stroke-width="0.40">γ IP-10</text>
<line x1="68.50" y1="597.00" x2="68.50" y2="598.25" stroke="#6e6e6e" stroke-width="1"/>
<line x1="65.42" y1="597.50" x2="70.83" y2="597.50" stroke="#6e6e6e" stroke-width="1"/>
<rect x="62.50" y="598.25" width="11.25" height="4.75" fill="#fff" stroke="#3a3a3a" stroke-width="0.75"/>
<line x1="79.50" y1="587.50" x2="79.50" y2="590.00" stroke="#6e6e6e" stroke-width="1"/>
<line x1="77.05" y1="587.50" x2="82.45" y2="587.50" stroke="#6e6e6e" stroke-width="1"/>
<rect x="73.75" y="590.00" width="12.00" height="13.00" fill="#0a0a0a" stroke="#3a3a3a" stroke-width="0.75"/>
<line x1="91.50" y1="598.60" x2="91.50" y2="599.30" stroke="#6e6e6e" stroke-width="1"/>
<line x1="88.67" y1="598.50" x2="94.08" y2="598.50" stroke="#6e6e6e" stroke-width="1"/>
<rect x="85.75" y="599.30" width="11.25" height="3.70" fill="#262626" stroke="#3a3a3a" stroke-width="0.75"/>
<line x1="114.50" y1="597.00" x2="114.50" y2="598.25" stroke="#6e6e6e" stroke-width="1"/>
<line x1="111.30" y1="597.50" x2="116.70" y2="597.50" stroke="#6e6e6e" stroke-width="1"/>
<rect x="108.00" y="598.25" width="12.00" height="4.75" fill="#fff" stroke="#3a3a3a" stroke-width="0.75"/>
<line x1="126.50" y1="554.25" x2="126.50" y2="560.50" stroke="#6e6e6e" stroke-width="1"/>
<line x1="123.55" y1="554.50" x2="128.95" y2="554.50" stroke="#6e6e6e" stroke-width="1"/>
<rect x="120.00" y="560.50" width="12.50" height="42.50" fill="#0a0a0a" stroke="#3a3a3a" stroke-width="0.75"/>
<line x1="137.50" y1="596.60" x2="137.50" y2="597.30" stroke="#6e6e6e" stroke-width="1"/>
<line x1="135.18" y1="596.50" x2="140.57" y2="596.50" stroke="#6e6e6e" stroke-width="1"/>
<rect x="132.50" y="597.30" width="10.75" height="5.70" fill="#bcbcbc" stroke="#3a3a3a" stroke-width="0.75"/>
<line x1="79.50" y1="603.00" x2="79.50" y2="607.50" stroke="#6a6a6a" stroke-width="1"/>
<line x1="125.50" y1="603.00" x2="125.50" y2="607.50" stroke="#6a6a6a" stroke-width="1"/>
<text x="80.20" y="622.50" font-family='"Liberation Serif", serif' font-size="16" font-weight="normal" text-anchor="middle" stroke="#111" stroke-width="0.51">0</text>
<text x="120.60" y="622.30" font-family='"Liberation Serif", serif' font-size="16" font-weight="normal" text-anchor="start" textLength="14" lengthAdjust="spacingAndGlyphs" stroke="#111" stroke-width="0.51">10</text>
<text x="134.70" y="616.06" font-family='"Liberation Serif", serif' font-size="10" font-weight="normal" text-anchor="start" textLength="5.0" lengthAdjust="spacingAndGlyphs" stroke="#111" stroke-width="0.30">2</text>
<path d="M125.00 545.50L125.00 541.90M125.00 545.50L128.42 544.39M125.00 545.50L127.12 548.41M125.00 545.50L122.88 548.41M125.00 545.50L121.58 544.39" stroke="#111" stroke-width="1.85" stroke-linecap="butt" fill="none"/>
<line x1="211.50" y1="466.60" x2="211.50" y2="604.25" stroke="#6a6a6a" stroke-width="1"/>
<line x1="205.60" y1="466.50" x2="211.40" y2="466.50" stroke="#6a6a6a" stroke-width="1"/>
<text x="204.70" y="472.28" font-family='"Liberation Serif", serif' font-size="16.5" font-weight="bold" text-anchor="end" stroke="#111" stroke-width="0.36">80</text>
<line x1="205.60" y1="504.50" x2="211.40" y2="504.50" stroke="#6a6a6a" stroke-width="1"/>
<text x="204.70" y="512.47" font-family='"Liberation Serif", serif' font-size="15" font-weight="bold" text-anchor="end" stroke="#111" stroke-width="0.33">60</text>
<line x1="205.60" y1="543.50" x2="211.40" y2="543.50" stroke="#6a6a6a" stroke-width="1"/>
<text x="204.70" y="550.77" font-family='"Liberation Serif", serif' font-size="15" font-weight="bold" text-anchor="end" stroke="#111" stroke-width="0.33">40</text>
<line x1="205.60" y1="577.50" x2="211.40" y2="577.50" stroke="#6a6a6a" stroke-width="1"/>
<text x="204.70" y="585.27" font-family='"Liberation Serif", serif' font-size="15" font-weight="bold" text-anchor="end" stroke="#111" stroke-width="0.33">20</text>
<line x1="211.25" y1="604.50" x2="305.75" y2="604.50" stroke="#6a6a6a" stroke-width="1"/>
<text x="246.80" y="465.60" font-family='"Liberation Serif", serif' font-size="18" font-weight="normal" text-anchor="start" textLength="31.5" lengthAdjust="spacingAndGlyphs" stroke="#111" stroke-width="0.40">Mig</text>
<line x1="222.50" y1="597.50" x2="222.50" y2="598.75" stroke="#6e6e6e" stroke-width="1"/>
<line x1="220.18" y1="597.50" x2="225.57" y2="597.50" stroke="#6e6e6e" stroke-width="1"/>
<rect x="217.00" y="598.75" width="11.75" height="5.25" fill="#fff" stroke="#3a3a3a" stroke-width="0.75"/>
<line x1="234.50" y1="593.50" x2="234.50" y2="595.00" stroke="#6e6e6e" stroke-width="1"/>
<line x1="232.05" y1="593.50" x2="237.45" y2="593.50" stroke="#6e6e6e" stroke-width="1"/>
<rect x="228.75" y="595.00" width="12.00" height="9.00" fill="#0a0a0a" stroke="#3a3a3a" stroke-width="0.75"/>
<line x1="246.50" y1="600.00" x2="246.50" y2="600.60" stroke="#6e6e6e" stroke-width="1"/>
<line x1="243.45" y1="600.50" x2="248.85" y2="600.50" stroke="#6e6e6e" stroke-width="1"/>
<rect x="240.60" y="600.60" width="11.10" height="3.40" fill="#262626" stroke="#3a3a3a" stroke-width="0.75"/>
<line x1="268.50" y1="597.00" x2="268.50" y2="598.00" stroke="#6e6e6e" stroke-width="1"/>
<line x1="266.05" y1="597.50" x2="271.45" y2="597.50" stroke="#6e6e6e" stroke-width="1"/>
<rect x="263.00" y="598.00" width="11.50" height="6.00" fill="#fff" stroke="#3a3a3a" stroke-width="0.75"/>
<line x1="280.50" y1="561.25" x2="280.50" y2="566.75" stroke="#6e6e6e" stroke-width="1"/>
<line x1="277.93" y1="561.50" x2="283.32" y2="561.50" stroke="#6e6e6e" stroke-width="1"/>
<rect x="274.50" y="566.75" width="12.25" height="37.25" fill="#0a0a0a" stroke="#3a3a3a" stroke-width="0.75"/>
<line x1="292.50" y1="596.50" x2="292.50" y2="597.20" stroke="#6e6e6e" stroke-width="1"/>
<line x1="289.80" y1="596.50" x2="295.20" y2="596.50" stroke="#6e6e6e" stroke-width="1"/>
<rect x="286.70" y="597.20" width="11.60" height="6.80" fill="#bcbcbc" stroke="#3a3a3a" stroke-width="0.75"/>
<line x1="234.50" y1="604.00" x2="234.50" y2="608.50" stroke="#6a6a6a" stroke-width="1"/>
<line x1="280.50" y1="604.00" x2="280.50" y2="608.50" stroke="#6a6a6a" stroke-width="1"/>
<text x="235.40" y="622.90" font-family='"Liberation Serif", serif' font-size="16" font-weight="normal" text-anchor="middle" stroke="#111" stroke-width="0.51">0</text>
<text x="275.30" y="622.80" font-family='"Liberation Serif", serif' font-size="16" font-weight="normal" text-anchor="start" textLength="14" lengthAdjust="spacingAndGlyphs" stroke="#111" stroke-width="0.51">10</text>
<text x="289.40" y="616.56" font-family='"Liberation Serif", serif' font-size="10" font-weight="normal" text-anchor="start" textLength="5.0" lengthAdjust="spacingAndGlyphs" stroke="#111" stroke-width="0.30">2</text>
<path d="M280.50 552.50L280.50 548.90M280.50 552.50L283.92 551.39M280.50 552.50L282.62 555.41M280.50 552.50L278.38 555.41M280.50 552.50L277.08 551.39" stroke="#111" stroke-width="1.85" stroke-linecap="butt" fill="none"/>
<line x1="360.50" y1="464.90" x2="360.50" y2="603.75" stroke="#6a6a6a" stroke-width="1"/>
<line x1="354.40" y1="464.50" x2="360.20" y2="464.50" stroke="#6a6a6a" stroke-width="1"/>
<text x="351.00" y="473.38" font-family='"Liberation Serif", serif' font-size="16.5" font-weight="bold" text-anchor="end" stroke="#111" stroke-width="0.36">80</text>
<line x1="354.40" y1="504.50" x2="360.20" y2="504.50" stroke="#6a6a6a" stroke-width="1"/>
<text x="351.00" y="513.17" font-family='"Liberation Serif", serif' font-size="15" font-weight="bold" text-anchor="end" stroke="#111" stroke-width="0.33">60</text>
<line x1="354.40" y1="542.50" x2="360.20" y2="542.50" stroke="#6a6a6a" stroke-width="1"/>
<text x="351.00" y="551.27" font-family='"Liberation Serif", serif' font-size="15" font-weight="bold" text-anchor="end" stroke="#111" stroke-width="0.33">40</text>
<line x1="354.40" y1="577.50" x2="360.20" y2="577.50" stroke="#6a6a6a" stroke-width="1"/>
<text x="351.00" y="585.47" font-family='"Liberation Serif", serif' font-size="15" font-weight="bold" text-anchor="end" stroke="#111" stroke-width="0.33">20</text>
<line x1="360.50" y1="603.50" x2="455.50" y2="603.50" stroke="#6a6a6a" stroke-width="1"/>
<text x="392.80" y="467.50" font-family='"Liberation Serif", serif' font-size="18.3" font-weight="normal" text-anchor="start" textLength="61.5" lengthAdjust="spacingAndGlyphs" stroke="#111" stroke-width="0.40">SDF-1α</text>
<line x1="372.50" y1="590.50" x2="372.50" y2="593.00" stroke="#6e6e6e" stroke-width="1"/>
<line x1="369.43" y1="590.50" x2="374.82" y2="590.50" stroke="#6e6e6e" stroke-width="1"/>
<rect x="366.25" y="593.00" width="11.75" height="10.50" fill="#fff" stroke="#3a3a3a" stroke-width="0.75"/>
<line x1="383.50" y1="590.50" x2="383.50" y2="592.50" stroke="#6e6e6e" stroke-width="1"/>
<line x1="381.05" y1="590.50" x2="386.45" y2="590.50" stroke="#6e6e6e" stroke-width="1"/>
<rect x="378.00" y="592.50" width="11.50" height="11.00" fill="#0a0a0a" stroke="#3a3a3a" stroke-width="0.75"/>
<line x1="395.50" y1="596.00" x2="395.50" y2="597.00" stroke="#6e6e6e" stroke-width="1"/>
<line x1="392.43" y1="596.50" x2="397.82" y2="596.50" stroke="#6e6e6e" stroke-width="1"/>
<rect x="389.50" y="597.00" width="11.25" height="6.50" fill="url(#stip)" stroke="#3a3a3a" stroke-width="0.75"/>
<line x1="418.50" y1="502.00" x2="418.50" y2="519.50" stroke="#6e6e6e" stroke-width="1"/>
<line x1="415.68" y1="502.50" x2="421.07" y2="502.50" stroke="#6e6e6e" stroke-width="1"/>
<rect x="412.50" y="519.50" width="11.75" height="84.00" fill="#fff" stroke="#3a3a3a" stroke-width="0.75"/>
<line x1="429.50" y1="484.50" x2="429.50" y2="500.00" stroke="#6e6e6e" stroke-width="1"/>
<line x1="427.18" y1="484.50" x2="432.57" y2="484.50" stroke="#6e6e6e" stroke-width="1"/>
<rect x="424.25" y="500.00" width="11.25" height="103.50" fill="#0a0a0a" stroke="#3a3a3a" stroke-width="0.75"/>
<line x1="441.50" y1="591.00" x2="441.50" y2="592.50" stroke="#6e6e6e" stroke-width="1"/>
<line x1="438.80" y1="591.50" x2="444.20" y2="591.50" stroke="#6e6e6e" stroke-width="1"/>
<rect x="435.50" y="592.50" width="12.00" height="11.00" fill="url(#stip)" stroke="#3a3a3a" stroke-width="0.75"/>
<line x1="384.50" y1="603.50" x2="384.50" y2="608.00" stroke="#6a6a6a" stroke-width="1"/>
<line x1="429.50" y1="603.50" x2="429.50" y2="608.00" stroke="#6a6a6a" stroke-width="1"/>
<text x="384.00" y="622.50" font-family='"Liberation Serif", serif' font-size="16" font-weight="normal" text-anchor="middle" stroke="#111" stroke-width="0.51">0</text>
<text x="423.60" y="622.50" font-family='"Liberation Serif", serif' font-size="16" font-weight="normal" text-anchor="start" textLength="14" lengthAdjust="spacingAndGlyphs" stroke="#111" stroke-width="0.51">10</text>
<text x="437.70" y="616.26" font-family='"Liberation Serif", serif' font-size="10" font-weight="normal" text-anchor="start" textLength="5.0" lengthAdjust="spacingAndGlyphs" stroke="#111" stroke-width="0.30">2</text>
<text x="443.20" y="622.50" font-family='"Liberation Serif", serif' font-size="16" font-weight="normal" text-anchor="start" textLength="50" lengthAdjust="spacingAndGlyphs" stroke="#111" stroke-width="0.42">(ng/mL)</text>
<path d="M417.50 493.25L417.50 489.65M417.50 493.25L420.92 492.14M417.50 493.25L419.62 496.16M417.50 493.25L415.38 496.16M417.50 493.25L414.08 492.14" stroke="#111" stroke-width="1.85" stroke-linecap="butt" fill="none"/>
<path d="M429.25 478.75L429.25 475.15M429.25 478.75L432.67 477.64M429.25 478.75L431.37 481.66M429.25 478.75L427.13 481.66M429.25 478.75L425.83 477.64" stroke="#111" stroke-width="1.85" stroke-linecap="butt" fill="none"/>
<rect x="80.5" y="689.5" width="136.0" height="113.0" fill="none" stroke="#161616" stroke-width="1.5"/>
<line x1="113.50" y1="689.75" x2="113.50" y2="802.25" stroke="#1a1a1a" stroke-width="1"/>
<line x1="80.00" y1="774.50" x2="216.75" y2="774.50" stroke="#1a1a1a" stroke-width="1"/>
<path d="M142.2 749.7h1M145.2 753.9h1M132.2 745.7h1M128.0 754.3h1M130.1 750.5h1M142.2 753.5h1M135.1 767.1h1M139.2 747.7h1M142.0 763.4h1M130.4 746.6h1M153.0 755.7h1M137.4 740.0h1M142.2 751.9h1M134.5 766.5h1M127.0 758.7h1M131.6 745.1h1M144.4 754.8h1M139.7 748.4h1M128.2 747.6h1M126.5 759.1h1M136.1 745.1h1M126.4 768.7h1M126.7 758.3h1M137.9 766.5h1M137.2 742.4h1M153.0 745.5h1M131.3 767.0h1M128.1 753.1h1M128.8 762.8h1M123.2 759.1h1M135.5 739.7h1M124.1 760.6h1M127.5 750.0h1M143.7 765.4h1M127.1 764.2h1M129.7 764.0h1M143.9 760.2h1M137.7 740.9h1M127.7 764.0h1M129.2 751.9h1M142.3 751.9h1M132.4 765.4h1M138.2 747.2h1M137.5 765.8h1M129.4 751.2h1M138.4 766.4h1M138.0 770.1h1M130.3 749.0h1M138.1 765.2h1M149.5 743.2h1M139.0 747.3h1M127.9 752.8h1M138.4 744.2h1M130.7 750.0h1M126.2 757.9h1M122.7 772.7h1M125.8 761.6h1M145.3 755.3h1M131.1 773.8h1M132.8 773.0h1M130.7 747.8h1M127.8 761.4h1M142.2 754.9h1M141.5 749.6h1M143.2 755.6h1M141.1 750.6h1M132.8 747.8h1M137.2 764.2h1M143.7 748.5h1M133.5 746.8h1M142.9 751.1h1M146.2 761.2h1M127.1 752.2h1M142.2 752.9h1M137.8 745.9h1M145.4 745.7h1M140.1 761.2h1M143.3 749.1h1M144.0 757.4h1M142.7 760.9h1M125.4 769.8h1M132.5 747.3h1M132.4 765.9h1M132.3 768.1h1M139.7 746.8h1M145.3 761.7h1M133.5 772.4h1M128.7 770.8h1M127.3 754.8h1M143.0 757.2h1M136.7 747.2h1M128.9 764.5h1M123.0 744.6h1M148.2 762.8h1M130.4 737.8h1M139.3 747.2h1M140.1 748.0h1M139.6 766.1h1M124.1 750.2h1M133.3 769.2h1M128.4 762.6h1M131.2 774.2h1M125.3 750.7h1M133.2 766.0h1M133.7 766.8h1M126.8 738.5h1M141.0 762.5h1M143.9 746.4h1M141.5 750.3h1M133.4 774.0h1M135.0 765.6h1M118.4 771.9h1M126.4 756.7h1M141.9 758.0h1M119.0 770.2h1M140.9 763.7h1M137.6 766.1h1M142.8 742.8h1M136.3 746.2h1M126.8 759.0h1M130.1 749.2h1M138.8 763.3h1M128.4 750.9h1M139.7 765.6h1M139.8 764.1h1M125.8 755.5h1M143.7 758.0h1M141.7 747.7h1M133.8 765.3h1M128.5 752.2h1M123.7 757.5h1M126.9 754.7h1M132.5 768.3h1M127.3 757.4h1M137.1 746.3h1M124.1 753.2h1M131.1 768.1h1M124.8 745.7h1M125.6 753.4h1M128.0 765.7h1M126.0 755.7h1M141.1 763.1h1M138.4 767.9h1M140.8 737.1h1M141.5 763.3h1M146.5 747.4h1M129.6 750.7h1M138.4 747.5h1M128.7 762.9h1M140.2 767.9h1M130.0 764.8h1M144.2 748.6h1M145.6 764.0h1M140.6 761.6h1M127.3 752.6h1M136.2 781.6h1M129.9 750.1h1M133.8 745.1h1M135.0 746.6h1M145.3 758.3h1M128.3 749.1h1M134.4 747.5h1M125.3 753.9h1M141.1 759.6h1M144.4 762.7h1M137.4 747.0h1M132.8 765.4h1M142.4 751.0h1M139.5 764.4h1M139.6 741.3h1M139.2 763.0h1M128.1 766.5h1M142.3 755.4h1M128.3 747.3h1M139.8 761.9h1M133.5 769.0h1M136.4 764.9h1M136.7 764.6h1M133.8 745.5h1M140.7 764.3h1M142.4 751.0h1M139.5 745.2h1M141.2 749.9h1M139.9 748.6h1M135.7 746.0h1M137.1 742.0h1M142.1 747.6h1M142.8 757.9h1M142.4 758.0h1M123.7 757.1h1M128.4 752.3h1M149.9 748.8h1M126.9 746.5h1M135.5 767.4h1M126.8 753.9h1M143.9 761.2h1M135.4 766.5h1M124.8 763.8h1M133.4 746.0h1M141.7 751.5h1M131.2 765.1h1M141.6 749.4h1M135.7 765.2h1M123.9 768.3h1M138.7 746.6h1M128.5 751.2h1M129.4 750.8h1M141.1 761.2h1M117.0 757.0h1M141.1 760.9h1M133.0 746.8h1M132.2 748.7h1M126.5 753.5h1M127.6 754.0h1M137.4 747.4h1M131.3 749.0h1M141.8 757.4h1M139.2 746.7h1M125.3 755.3h1M125.0 765.7h1M138.7 768.0h1M134.6 745.7h1M152.3 741.0h1M124.8 764.5h1M135.4 765.1h1M121.7 765.1h1M134.1 770.1h1M127.5 755.2h1M135.6 767.5h1M135.1 771.0h1M139.0 766.2h1M127.1 767.1h1M142.5 757.0h1M133.0 747.7h1M135.5 765.3h1M125.7 762.4h1M126.9 766.0h1M143.2 759.1h1M129.4 770.7h1M125.7 755.8h1M145.3 754.4h1M139.6 742.8h1M137.4 747.2h1M142.3 744.5h1M144.1 762.0h1M131.4 746.6h1M127.8 765.2h1M123.7 762.8h1M145.1 753.5h1M138.0 747.0h1M136.0 742.3h1M143.9 758.6h1M137.2 747.2h1M127.1 766.9h1M136.9 743.1h1M127.4 750.8h1M143.5 751.1h1M144.5 741.8h1M147.1 770.7h1M129.3 751.8h1M144.6 763.2h1M137.8 745.2h1M140.4 761.9h1M126.9 758.7h1M127.5 755.2h1M150.0 745.4h1M123.4 753.1h1M125.5 770.8h1M138.5 764.2h1M143.6 757.6h1M128.5 753.5h1M135.9 745.1h1M133.7 747.3h1M135.8 766.2h1M131.7 765.0h1M146.9 748.9h1M125.3 772.8h1M137.6 738.7h1M131.1 747.6h1M107.5 766.2h1M129.5 749.3h1M142.9 755.9h1M135.4 765.3h1M140.2 762.7h1M137.6 746.4h1M141.7 747.0h1M141.2 761.8h1M133.9 773.2h1M140.4 765.5h1M119.2 757.1h1M145.7 755.7h1M126.7 748.7h1M124.5 764.8h1M142.9 755.9h1M149.0 746.8h1M133.6 745.5h1M130.7 766.0h1M141.8 733.8h1M136.2 743.3h1M130.5 746.7h1M141.4 749.7h1M138.8 763.7h1M140.3 745.9h1M147.6 761.4h1M143.0 749.9h1M142.6 753.4h1M143.2 753.1h1M137.9 746.5h1M138.7 766.3h1M128.6 746.0h1M126.4 755.0h1M133.9 746.0h1M136.8 747.1h1M151.3 745.4h1M126.1 762.3h1M142.9 741.7h1M138.4 746.5h1M128.7 750.1h1M137.6 775.5h1M147.6 758.5h1M130.1 764.2h1M123.4 749.0h1M143.7 759.5h1M140.1 763.5h1M137.4 770.6h1M142.8 734.8h1M141.4 750.2h1M127.5 765.3h1M125.5 774.0h1M131.2 769.0h1M125.8 756.9h1M133.0 765.4h1M139.4 763.2h1M136.0 743.5h1M138.1 747.1h1M127.6 766.9h1M142.4 754.7h1M125.4 759.3h1M139.8 746.5h1M144.0 758.8h1M128.4 751.2h1M119.7 768.8h1M123.6 749.3h1M138.4 746.7h1M123.4 774.3h1M142.7 757.6h1M127.4 764.8h1M138.3 745.6h1M141.2 765.1h1M142.6 756.8h1M129.9 749.0h1M142.3 745.3h1M128.8 770.4h1M141.0 746.4h1M135.9 734.4h1M141.5 742.0h1M131.8 766.0h1M140.8 761.8h1M141.7 747.2h1M130.3 749.3h1M142.3 763.6h1M131.5 748.6h1M141.3 760.4h1M142.4 755.7h1M131.6 748.9h1M140.1 771.0h1M144.8 760.2h1M134.1 737.8h1M139.9 762.3h1M145.8 757.2h1M131.1 745.1h1M134.3 745.9h1M141.9 758.7h1M133.3 746.8h1M150.5 746.2h1M146.2 737.8h1M134.8 766.7h1M126.9 746.5h1M128.8 752.5h1M139.8 763.8h1M132.7 747.5h1M148.4 757.6h1M134.2 767.2h1M146.2 756.5h1M142.1 755.1h1M140.7 738.3h1M140.1 767.4h1M137.4 745.9h1M118.7 765.7h1M129.8 765.3h1M137.2 746.0h1M131.9 765.1h1M121.2 766.2h1M149.9 758.5h1M128.2 752.2h1M147.1 767.2h1M138.5 745.9h1M127.0 752.9h1M146.4 741.8h1M128.7 770.5h1M131.0 771.6h1M134.4 744.1h1M132.7 746.9h1M146.6 753.0h1M131.5 765.8h1M142.9 754.9h1M127.5 756.9h1M141.8 760.3h1M146.6 762.0h1M142.9 753.7h1M128.1 753.7h1M127.1 748.6h1M130.3 749.2h1M126.7 765.6h1M136.6 769.6h1M144.8 750.1h1M137.0 740.4h1M131.7 745.7h1M142.6 744.6h1M138.5 746.7h1M137.7 764.3h1M134.5 744.4h1M142.5 759.7h1M139.8 745.5h1M124.2 766.0h1M155.8 746.5h1M134.6 767.5h1M141.8 767.7h1M136.1 747.2h1M140.4 748.8h1M116.8 762.0h1M130.1 739.7h1M125.3 747.2h1M132.6 766.4h1M150.4 748.6h1M125.3 762.1h1M132.5 747.5h1M140.0 748.2h1M126.8 759.8h1M141.8 745.3h1M134.6 747.5h1M142.9 746.0h1M140.5 747.5h1M122.9 756.8h1M142.1 753.0h1M126.1 756.8h1M145.0 752.4h1M129.3 764.2h1M136.9 745.4h1M140.9 761.8h1M126.5 757.9h1M130.0 748.7h1M146.6 761.0h1M140.9 747.5h1M142.3 744.6h1M138.3 763.3h1M134.7 767.2h1M138.1 765.5h1M142.4 748.6h1M127.6 756.8h1M140.2 765.8h1M127.7 760.8h1M126.9 753.8h1M136.6 746.7h1M140.5 764.2h1M128.2 753.3h1M144.4 763.2h1M142.2 751.4h1M147.8 764.3h1M143.9 755.5h1M128.7 740.8h1M121.2 764.6h1M145.4 745.9h1M141.8 743.0h1M136.1 766.6h1M144.4 744.3h1M131.1 748.6h1M131.2 746.5h1M138.3 747.2h1M139.9 767.2h1M127.5 757.4h1M146.0 756.7h1M147.0 749.1h1M124.9 756.9h1M135.8 743.7h1M126.0 759.1h1M127.2 763.7h1M128.8 749.5h1M127.8 760.5h1M139.6 745.5h1M131.8 770.6h1M141.9 747.7h1M143.7 751.8h1M130.0 750.2h1M129.7 750.8h1M144.0 756.4h1M145.0 753.1h1M131.7 770.2h1M144.1 755.4h1M131.6 746.3h1M149.8 745.0h1M146.4 761.0h1M134.3 770.1h1M141.4 759.9h1M141.7 762.2h1M147.0 743.6h1M142.3 765.9h1M133.5 747.7h1M144.6 746.8h1M138.9 738.9h1M145.9 747.2h1M140.2 764.4h1M137.7 746.6h1M135.0 744.8h1M140.4 749.3h1M139.9 762.3h1M139.5 766.9h1M133.0 766.0h1M127.5 755.6h1M132.4 744.7h1M121.4 757.6h1M138.5 766.6h1M141.4 759.2h1M130.3 746.1h1M139.0 741.6h1M113.6 762.0h1M131.8 766.8h1M141.9 748.0h1M146.0 755.8h1M139.9 741.4h1M143.6 760.9h1M126.5 764.8h1M142.4 758.9h1M141.3 750.6h1M128.3 748.3h1M139.0 765.6h1M139.1 747.6h1M144.7 757.9h1M133.3 748.0h1M133.1 747.7h1M126.8 758.8h1M141.5 745.8h1M126.5 751.1h1M139.9 762.2h1M141.9 750.1h1M127.9 761.6h1M131.5 772.9h1M137.9 745.6h1M128.3 761.7h1M133.1 745.0h1M127.6 748.8h1M126.6 774.3h1M138.8 764.0h1M127.7 755.7h1M139.2 746.0h1M132.8 765.5h1M127.6 756.8h1M149.0 744.8h1M127.1 760.2h1M126.3 763.1h1M144.6 745.0h1M135.9 746.0h1M137.8 763.8h1M127.5 769.3h1M135.8 764.8h1M125.9 749.7h1M126.5 748.8h1M142.6 752.5h1M142.6 756.5h1M131.1 766.4h1M136.4 769.0h1M138.6 742.9h1M128.5 748.9h1M123.5 754.5h1M127.4 762.2h1M145.4 737.1h1M147.5 759.2h1M139.0 746.8h1M142.7 764.4h1M134.4 742.5h1M134.2 739.8h1M138.9 763.8h1M127.4 766.6h1M143.6 761.4h1M135.8 767.2h1M137.2 768.6h1M129.7 766.4h1M135.7 744.2h1M127.3 761.1h1M138.8 763.1h1M142.2 757.2h1M139.5 762.4h1M142.5 750.1h1M142.0 756.3h1M124.8 763.6h1M129.3 768.9h1M127.4 759.0h1M134.6 766.8h1M140.0 768.8h1M136.9 764.5h1M145.0 766.8h1M139.8 748.3h1M142.2 756.8h1M134.0 772.2h1M135.0 768.8h1M137.0 743.6h1M142.2 753.1h1M142.5 744.1h1M129.8 749.2h1M137.7 747.5h1M129.7 765.4h1M134.9 745.8h1M119.1 751.1h1M122.4 763.7h1M130.8 749.7h1M132.1 767.3h1M129.1 765.3h1M140.7 745.8h1M147.9 751.4h1M144.9 745.2h1M139.7 748.7h1M144.4 762.0h1M128.5 753.4h1M133.3 767.8h1M127.9 753.4h1M135.3 766.5h1M140.4 762.2h1M139.9 747.3h1M125.1 752.6h1M127.8 761.5h1M133.2 765.6h1M132.4 769.7h1M132.7 744.6h1M130.9 747.6h1M148.6 751.6h1M148.0 758.2h1M137.7 746.6h1M122.0 751.8h1M138.1 765.3h1M128.7 751.4h1M130.9 767.8h1M124.6 764.9h1M134.5 746.0h1M135.8 765.4h1M129.8 768.7h1M129.6 750.4h1M123.1 759.6h1M128.9 751.7h1M141.7 740.2h1M135.8 746.5h1M136.3 769.1h1M141.5 750.0h1M134.6 746.5h1M142.8 748.3h1M141.0 748.0h1M124.7 777.3h1M140.6 760.8h1M131.9 748.4h1M131.5 780.7h1M127.5 747.6h1M127.6 761.8h1M139.8 748.2h1M143.3 756.9h1M133.1 767.2h1M125.1 752.8h1M126.9 750.2h1M127.3 759.9h1M130.5 766.7h1M125.8 744.7h1M130.5 768.0h1M139.7 746.2h1M138.8 768.0h1M126.7 768.5h1M124.7 768.5h1M127.2 749.5h1M127.0 761.6h1M130.5 749.8h1M127.3 769.2h1M139.3 744.1h1M128.2 750.5h1M129.5 746.9h1M141.5 764.8h1M128.0 762.6h1M130.0 744.3h1M142.4 761.0h1M127.6 756.4h1M132.9 765.9h1M119.9 753.5h1M127.3 758.2h1M129.0 766.9h1M126.2 763.0h1M122.9 754.3h1M141.1 762.4h1M128.8 764.0h1M131.6 767.0h1M141.3 759.7h1M143.3 755.4h1M131.0 748.3h1M130.7 750.0h1M128.6 765.4h1M122.0 779.4h1M123.4 785.5h1M128.4 766.7h1M136.6 777.5h1M107.9 785.6h1M121.4 795.1h1M112.2 768.8h1M107.3 790.8h1M129.5 788.6h1M126.6 772.7h1M121.9 781.8h1M141.0 770.5h1M124.3 777.8h1M109.3 782.9h1M104.7 794.0h1M125.3 794.4h1M112.4 789.9h1M112.2 789.8h1M144.3 761.7h1M128.8 774.1h1M126.5 767.4h1M140.7 764.2h1M136.5 765.4h1M106.3 779.7h1M116.5 786.3h1M103.3 784.7h1M128.8 774.3h1M124.9 775.7h1M128.4 782.2h1M116.1 769.2h1M119.4 781.2h1M103.7 792.0h1M120.3 781.4h1M124.5 777.4h1M115.6 783.7h1M109.8 773.2h1M133.5 774.4h1M121.6 779.2h1M110.3 783.8h1M107.0 795.5h1M119.8 777.8h1M111.3 781.4h1M109.5 799.3h1M114.7 777.4h1M131.3 779.5h1M110.6 793.1h1M112.9 770.4h1M125.4 791.0h1M109.8 791.5h1M129.5 774.3h1M103.3 788.4h1M122.4 785.5h1M108.7 778.5h1M115.3 780.3h1M103.5 787.7h1M129.2 768.6h1M123.5 785.0h1M129.0 768.5h1M118.0 786.6h1M117.4 782.8h1M119.1 784.1h1M122.1 783.1h1M98.8 784.7h1M129.0 779.2h1M138.5 777.9h1M116.7 780.9h1M117.7 787.6h1M145.4 764.3h1M131.6 767.7h1M113.2 792.2h1M115.8 795.2h1M141.4 773.1h1M122.9 780.5h1M118.0 761.1h1M126.2 777.6h1M110.3 793.5h1M119.6 756.5h1M122.8 774.1h1M133.6 765.2h1M120.6 770.7h1M118.7 776.0h1M106.7 794.8h1M110.2 786.8h1M126.1 786.1h1M117.4 784.2h1M106.6 785.6h1M103.9 766.7h1M108.0 787.8h1M127.3 775.1h1M102.7 779.7h1M113.4 790.0h1M113.9 776.0h1M115.0 789.0h1M118.5 781.2h1M115.7 792.3h1M107.0 779.5h1M132.3 778.9h1M117.4 797.3h1M112.1 800.1h1M110.9 786.6h1M124.8 763.8h1M133.4 783.9h1M115.2 795.2h1M118.2 788.3h1M115.4 778.0h1M132.1 777.6h1M114.2 774.2h1M120.7 782.2h1M107.6 796.9h1M118.0 781.7h1M112.2 788.4h1M159.7 767.5h1M103.1 792.0h1M126.3 767.7h1M112.2 784.6h1M110.4 795.6h1M127.5 772.7h1M110.8 761.9h1M137.9 775.6h1M121.0 763.1h1M134.8 767.1h1M105.4 772.8h1M109.5 789.0h1M155.2 766.1h1M132.2 772.5h1M138.1 769.6h1M125.1 793.1h1M101.9 775.2h1M139.3 772.3h1M108.3 789.8h1M117.9 780.9h1M123.0 777.5h1M122.9 783.1h1M126.5 768.1h1M115.9 788.3h1M115.4 789.7h1M136.5 785.4h1M107.3 786.8h1M127.3 770.3h1M120.5 787.1h1M126.4 759.5h1M132.2 766.1h1M125.2 781.0h1M110.6 793.3h1M112.3 790.0h1M131.1 767.6h1M109.4 789.3h1M118.5 783.5h1M107.2 782.4h1M112.6 794.2h1M126.4 772.7h1M109.4 800.7h1M133.5 759.8h1M145.1 768.9h1M122.5 786.2h1M113.3 799.1h1M134.2 776.5h1M116.4 788.8h1M119.7 763.2h1M127.6 779.9h1M119.2 780.6h1M139.6 774.2h1M120.9 775.9h1M106.2 798.1h1M111.1 791.4h1M97.3 794.2h1M131.1 781.7h1M126.6 780.4h1M127.3 783.5h1M116.4 778.5h1M121.5 777.8h1M121.2 770.1h1M128.7 791.8h1M102.4 794.2h1M117.3 781.1h1M111.1 797.5h1M128.0 776.6h1M142.5 769.1h1M138.4 771.4h1M105.6 781.7h1M138.5 761.6h1M137.7 769.3h1M118.7 783.0h1M129.0 782.6h1M118.1 796.5h1M121.9 795.9h1M105.4 796.9h1M105.7 789.8h1M112.0 789.1h1M120.0 776.8h1M115.2 784.4h1M114.7 788.6h1M137.7 777.9h1M113.4 775.8h1M119.1 775.8h1M119.2 778.3h1M143.3 767.1h1M102.5 786.7h1M113.4 791.1h1M115.5 792.3h1M104.5 770.3h1M117.1 790.2h1M127.6 777.1h1M120.9 772.3h1M126.9 781.7h1M113.5 774.4h1M130.6 770.9h1M117.7 776.2h1M134.7 775.6h1M105.6 786.5h1M120.3 792.5h1M109.3 777.2h1M117.9 782.9h1M116.4 771.2h1M125.3 783.4h1M113.1 797.7h1M114.4 794.6h1M124.5 771.1h1M136.2 762.2h1M121.1 769.4h1M119.1 789.8h1M110.3 791.2h1M115.0 781.3h1M125.9 776.5h1M118.2 772.8h1M101.4 789.6h1M118.8 785.4h1M124.5 791.8h1M97.2 783.2h1M105.8 787.0h1M106.7 788.6h1M107.5 781.1h1M115.0 777.9h1M115.3 784.7h1M104.8 790.9h1M124.5 772.9h1M115.0 781.7h1M117.6 789.7h1M122.1 777.8h1M118.9 763.0h1M112.6 786.8h1M101.7 794.6h1M110.3 789.1h1M106.1 793.1h1M112.5 785.4h1M113.1 780.3h1M133.2 773.9h1M109.0 782.6h1M105.2 800.3h1M116.4 793.8h1M114.0 789.4h1M139.4 763.0h1M128.5 789.4h1M125.1 781.4h1M114.0 780.7h1M117.6 765.3h1M135.0 775.6h1M114.9 769.8h1M123.3 773.9h1M130.1 768.7h1M119.2 791.1h1M117.3 789.3h1M129.6 781.3h1M125.0 779.7h1M117.1 789.7h1M109.3 768.5h1M118.3 782.2h1M131.5 759.5h1M112.4 789.4h1M140.3 779.4h1M112.8 787.4h1M139.0 780.4h1M126.3 781.6h1M117.1 785.6h1M114.8 789.9h1M114.1 788.5h1M126.5 782.1h1M111.1 798.8h1M116.4 791.3h1M99.5 792.6h1M128.9 776.4h1M133.7 769.6h1M125.8 786.4h1M119.3 777.9h1M131.7 764.0h1M127.6 776.1h1M138.2 773.7h1M130.5 782.0h1M126.1 776.5h1M110.6 771.6h1M117.2 793.5h1M101.4 796.0h1M136.1 769.3h1M120.6 772.5h1M114.3 797.4h1M113.7 785.9h1M121.1 793.6h1M115.8 767.6h1M125.5 768.3h1M110.3 783.5h1M126.4 778.6h1M108.0 797.6h1M119.6 765.9h1M118.6 782.2h1M124.1 777.1h1M113.7 792.0h1M113.8 782.4h1M116.4 794.2h1M123.7 758.0h1M111.7 779.6h1M115.7 796.2h1M118.8 773.5h1M141.0 763.6h1M117.4 787.2h1M129.3 773.5h1M129.2 777.8h1M123.2 793.3h1M116.8 778.8h1M117.7 774.2h1M139.5 755.9h1M140.9 776.3h1M123.1 784.8h1M129.6 764.4h1M111.4 790.7h1M105.6 791.5h1M112.4 792.5h1M96.6 799.1h1M114.7 776.9h1M114.5 784.8h1M107.3 789.1h1M119.4 799.3h1M124.3 756.6h1M101.7 769.1h1M111.1 783.6h1M122.9 769.8h1M124.0 773.4h1M112.7 783.5h1M115.1 771.7h1M107.5 796.8h1M117.8 797.0h1M127.4 769.4h1M119.8 794.8h1M104.4 785.5h1M117.6 793.1h1M123.2 777.8h1M128.7 780.9h1M126.3 781.7h1M116.9 781.8h1M159.0 767.3h1M124.9 792.0h1M107.1 793.8h1M114.8 781.4h1M137.0 782.4h1M103.9 776.4h1M116.4 788.9h1M143.3 770.2h1M111.5 793.7h1M127.0 775.2h1M130.4 760.5h1M112.5 790.6h1M110.1 794.6h1M108.1 788.9h1M136.4 773.8h1M122.2 777.3h1M119.4 790.6h1M123.4 784.0h1M128.7 786.6h1M103.4 774.2h1M138.4 768.3h1M126.0 770.1h1M120.7 783.7h1M118.5 785.3h1M112.7 783.1h1M112.8 770.5h1M114.7 796.1h1M113.5 776.9h1M133.0 772.9h1M138.4 777.3h1M130.5 789.3h1M118.2 782.5h1M111.0 783.2h1M126.9 781.0h1M114.4 789.3h1M116.5 792.5h1M112.9 786.6h1M109.2 790.1h1M110.4 776.6h1M125.8 779.3h1M108.6 791.4h1M112.4 793.5h1M118.8 787.2h1M120.0 788.6h1M115.2 767.2h1M125.5 767.7h1M127.8 773.8h1M115.4 784.5h1M109.4 792.7h1M109.6 792.3h1M99.5 790.8h1M127.8 766.9h1M123.9 772.7h1M119.2 787.4h1M101.1 791.4h1M124.2 779.5h1M114.3 790.7h1M107.7 795.0h1M117.8 783.7h1M120.5 764.4h1M125.1 789.0h1M111.7 764.6h1M140.6 764.4h1M128.1 777.7h1M109.8 789.4h1M143.8 770.0h1M118.9 768.9h1M112.7 788.0h1M101.5 789.9h1M114.6 789.5h1M128.8 780.3h1M112.8 790.3h1M132.1 763.4h1M116.7 777.5h1M101.2 797.1h1M123.6 785.9h1M135.1 767.2h1M134.0 769.4h1M112.8 777.1h1M134.1 776.1h1M132.7 775.9h1M113.7 795.7h1M115.3 789.6h1M118.7 786.9h1M143.6 777.2h1M114.1 761.6h1M113.8 784.6h1M112.7 787.6h1M125.9 780.9h1M111.6 794.0h1M104.1 787.3h1M114.1 774.2h1M124.6 769.6h1M103.5 795.5h1M125.7 776.9h1M146.5 769.1h1M110.2 781.2h1M125.3 775.8h1M118.5 781.7h1M125.4 780.3h1M108.8 792.0h1M102.2 762.9h1M123.9 770.7h1M119.8 793.9h1M110.8 796.2h1M134.1 767.8h1M117.0 791.6h1M111.1 764.8h1M120.8 792.6h1M108.2 793.0h1M118.2 786.5h1M131.7 774.4h1M101.8 783.0h1M118.5 778.6h1M106.8 789.2h1M131.4 777.2h1M123.3 762.1h1M114.4 778.1h1M139.4 780.3h1M121.0 782.3h1M116.1 779.5h1M131.3 769.4h1M125.8 793.4h1M110.1 776.5h1M112.4 776.5h1M122.7 771.3h1M116.4 778.2h1M127.0 760.8h1M118.7 785.0h1M111.6 794.1h1M112.0 772.6h1M128.6 775.9h1M116.0 788.8h1M137.8 770.7h1M126.4 792.9h1M125.5 778.8h1M118.8 786.2h1M131.2 761.0h1M100.4 794.8h1M125.8 770.3h1M126.7 773.5h1M124.9 790.4h1M123.5 776.1h1M102.9 788.4h1M107.4 791.2h1M124.0 777.9h1M129.6 779.9h1M109.1 800.1h1M120.6 770.1h1M116.3 788.4h1M117.3 784.4h1M104.5 776.1h1M121.5 763.4h1M105.2 774.0h1M132.1 768.0h1M117.1 786.5h1M118.4 791.2h1M150.5 773.2h1M135.3 762.3h1M118.6 789.3h1M121.8 788.4h1M108.3 782.8h1M115.1 795.5h1M113.0 788.0h1M120.5 785.9h1M157.1 769.4h1M126.6 772.9h1M125.6 784.0h1M124.3 767.5h1M111.1 787.6h1M103.0 776.1h1M127.6 788.5h1M111.4 787.9h1M126.1 771.9h1M119.5 764.9h1M117.6 782.7h1M110.3 781.0h1M110.1 768.7h1M110.7 786.7h1M102.5 781.3h1M115.2 780.3h1M128.1 768.9h1M122.8 782.0h1M113.1 786.4h1M139.2 777.2h1M115.9 788.1h1M110.7 792.8h1M109.9 794.2h1M130.3 753.6h1M97.0 771.9h1M114.8 766.0h1M120.0 771.8h1M109.6 776.4h1M115.6 770.3h1M119.9 769.1h1M100.4 794.0h1M113.4 781.6h1M137.6 766.1h1M104.2 779.6h1M133.0 780.3h1M110.3 772.0h1M113.2 791.1h1M129.9 768.7h1M131.7 771.3h1M117.4 774.5h1M115.7 781.7h1M135.0 777.0h1M105.6 780.1h1M121.1 794.4h1M115.9 775.8h1M117.6 780.5h1M134.2 770.3h1M135.9 772.9h1M121.2 776.6h1M121.7 794.3h1M114.7 796.2h1M108.5 786.0h1M120.8 766.9h1M113.1 791.8h1M119.3 780.6h1M104.6 771.5h1M140.5 769.1h1M118.2 772.6h1M129.2 761.4h1M101.4 781.5h1M124.4 789.3h1M104.7 781.5h1M103.6 779.5h1M110.6 778.9h1M107.4 783.0h1M134.1 779.3h1M120.1 773.6h1M128.4 769.9h1M115.8 791.3h1M112.2 787.4h1M113.8 780.4h1M125.6 760.8h1M132.7 782.9h1M116.2 795.2h1M143.8 781.6h1M123.6 777.6h1M132.0 767.7h1M117.0 781.6h1M134.3 767.6h1M112.3 794.5h1M120.1 764.4h1M109.2 779.8h1M124.2 773.1h1M109.2 792.4h1M114.5 773.5h1M115.4 786.0h1M110.7 797.0h1M106.8 786.5h1M97.6 796.9h1M116.4 768.6h1M131.9 764.0h1M125.3 793.6h1M121.3 776.7h1M113.1 782.0h1M128.3 768.8h1M112.2 795.1h1M133.3 755.2h1M117.7 774.5h1M110.0 789.9h1M128.3 764.3h1M111.5 794.0h1M113.6 788.8h1M134.0 766.9h1M120.3 798.0h1M108.8 795.5h1M118.1 773.9h1M126.2 785.0h1M104.7 790.6h1M130.1 765.6h1M127.9 792.8h1M117.1 785.7h1M97.2 788.3h1M109.2 768.0h1M114.3 782.9h1M124.6 779.2h1M108.9 757.2h1M134.8 773.1h1M124.0 770.2h1M124.6 769.3h1M113.0 790.9h1M126.8 785.8h1M107.0 786.0h1M125.4 764.6h1M123.6 789.8h1M113.5 781.1h1M137.5 780.0h1M132.8 766.6h1M122.1 781.6h1M118.3 795.7h1M125.6 785.3h1M115.8 768.3h1M125.1 781.1h1M130.6 773.6h1M97.2 791.5h1M141.1 762.0h1M103.6 785.9h1M125.2 768.9h1M133.3 773.9h1M114.7 791.2h1M122.3 765.0h1M120.3 775.7h1M129.4 772.7h1M119.3 796.6h1M118.5 782.1h1M97.3 792.5h1M140.0 762.0h1M126.9 779.5h1M113.0 784.9h1M126.5 778.1h1M113.2 783.4h1M111.9 789.7h1M122.9 769.6h1M111.3 785.5h1M124.9 777.0h1M126.5 762.5h1M140.4 767.9h1M124.0 794.9h1M120.5 788.8h1M116.1 784.1h1M127.6 770.6h1M122.7 780.6h1M111.6 790.7h1M113.4 793.9h1M121.2 784.9h1M107.1 785.4h1M125.0 768.4h1M129.4 782.7h1M132.1 781.3h1M107.7 796.2h1M113.1 790.1h1M123.8 780.4h1M104.7 793.2h1M117.4 782.1h1M129.4 770.1h1M129.9 776.0h1M105.0 789.2h1M121.6 794.9h1M132.4 762.3h1M132.6 772.0h1M135.0 767.3h1M105.2 795.9h1M89.9 793.4h1M128.8 767.9h1M124.1 781.3h1M98.7 796.3h1M122.2 774.4h1M124.8 777.5h1M138.6 772.0h1M125.9 788.7h1M128.4 777.5h1M111.2 781.8h1M111.1 771.4h1M104.7 790.7h1M136.7 759.2h1M105.6 784.9h1M110.3 783.9h1M127.3 767.3h1M113.7 792.2h1M115.6 782.4h1M121.6 769.9h1M124.7 769.4h1M98.9 788.4h1M120.6 777.9h1M135.3 774.9h1M115.0 789.2h1M124.6 774.9h1M129.4 780.3h1M118.3 798.7h1M125.3 771.4h1M106.5 782.8h1M112.8 798.2h1M112.9 797.8h1M125.9 781.0h1M105.0 785.6h1M130.0 783.5h1M126.8 772.8h1M112.3 791.5h1M105.0 789.4h1M116.2 781.6h1M131.7 773.1h1M119.2 770.9h1M127.7 791.0h1M106.6 791.9h1M124.6 774.9h1M118.9 774.4h1M122.8 775.5h1M109.3 764.0h1M112.0 776.5h1M134.9 774.1h1M110.4 781.1h1M129.6 785.0h1M106.8 780.4h1M116.0 795.8h1M119.2 769.1h1M107.9 785.3h1M115.4 775.7h1M116.1 781.5h1M119.5 761.8h1M133.8 774.1h1M119.4 781.3h1M119.7 797.5h1M110.8 784.0h1M114.5 760.5h1M136.6 763.9h1M140.4 760.4h1M112.0 720.3h1M145.5 741.8h1M136.1 749.2h1M149.1 743.8h1M169.8 754.7h1M150.2 762.9h1M161.1 759.8h1M101.2 745.7h1M94.0 759.0h1M96.0 762.0h1M93.0 771.0h1M98.0 775.0h1M101.0 768.0h1M155.0 752.0h1M164.0 751.0h1M97.0 783.0h1M103.0 787.0h1" stroke="#111" stroke-width="1.1" fill="none"/>
<ellipse cx="134.8" cy="756.3" rx="9.0" ry="12.2" transform="rotate(17 134.8 756.3)" fill="#0a0a0a"/>
<text x="82.50" y="707.00" font-family='"Liberation Serif", serif' font-size="14" font-weight="normal" text-anchor="start" textLength="30" lengthAdjust="spacingAndGlyphs" stroke="#111" stroke-width="0.31">0.3%</text>
<text x="174.50" y="704.50" font-family='"Liberation Serif", serif' font-size="14" font-weight="normal" text-anchor="start" textLength="40" lengthAdjust="spacingAndGlyphs" stroke="#111" stroke-width="0.31">96.4%</text>
<text x="82.50" y="800.00" font-family='"Liberation Serif", serif' font-size="14" font-weight="normal" text-anchor="start" textLength="31" lengthAdjust="spacingAndGlyphs" stroke="#111" stroke-width="0.31">2.4%</text>
<text x="182.50" y="800.50" font-family='"Liberation Serif", serif' font-size="14" font-weight="normal" text-anchor="start" textLength="31.3" lengthAdjust="spacingAndGlyphs" stroke="#111" stroke-width="0.31">1.5%</text>
<text x="106.25" y="675.60" font-family='"Liberation Serif", serif' font-size="19" font-weight="normal" text-anchor="start" textLength="50.75" lengthAdjust="spacingAndGlyphs" stroke="#111" stroke-width="0.42">Before</text>
<text transform="translate(57.50,751.60) rotate(-90)" font-family='"Liberation Serif", serif' font-size="15" font-weight="normal" text-anchor="middle" stroke="#111" stroke-width="0.4" textLength="66.5" lengthAdjust="spacingAndGlyphs">CD34<tspan font-size="6.5" dy="-5.5">+</tspan><tspan dy="5.5">(PE)</tspan></text>
<text x="102.5" y="836.2" font-family='"Liberation Serif", serif' font-size="14" textLength="91" lengthAdjust="spacingAndGlyphs">CXCR3<tspan font-size="6.5" dy="-5.5">+</tspan><tspan dy="5.5">(FITC)</tspan></text>
<text x="80.6" y="808.5" font-family='"Liberation Sans", sans-serif' font-size="5.2" font-weight="bold" stroke="#111" stroke-width="0.25">10<tspan font-size="3.2" dy="-2">0</tspan></text>
<text transform="translate(77.8,802.0) rotate(-90)" font-family='"Liberation Sans", sans-serif' font-size="5.2" font-weight="bold" stroke="#111" stroke-width="0.25">10<tspan font-size="3.2" dy="-2">0</tspan></text>
<line x1="80.50" y1="802.25" x2="80.50" y2="804.05" stroke="#1a1a1a" stroke-width="1"/>
<line x1="78.20" y1="802.50" x2="80.00" y2="802.50" stroke="#1a1a1a" stroke-width="1"/>
<text x="114.8" y="808.5" font-family='"Liberation Sans", sans-serif' font-size="5.2" font-weight="bold" stroke="#111" stroke-width="0.25">10<tspan font-size="3.2" dy="-2">1</tspan></text>
<text transform="translate(77.8,773.8) rotate(-90)" font-family='"Liberation Sans", sans-serif' font-size="5.2" font-weight="bold" stroke="#111" stroke-width="0.25">10<tspan font-size="3.2" dy="-2">1</tspan></text>
<line x1="114.50" y1="802.25" x2="114.50" y2="804.05" stroke="#1a1a1a" stroke-width="1"/>
<line x1="78.20" y1="774.50" x2="80.00" y2="774.50" stroke="#1a1a1a" stroke-width="1"/>
<text x="149.0" y="808.5" font-family='"Liberation Sans", sans-serif' font-size="5.2" font-weight="bold" stroke="#111" stroke-width="0.25">10<tspan font-size="3.2" dy="-2">2</tspan></text>
<text transform="translate(77.8,745.7) rotate(-90)" font-family='"Liberation Sans", sans-serif' font-size="5.2" font-weight="bold" stroke="#111" stroke-width="0.25">10<tspan font-size="3.2" dy="-2">2</tspan></text>
<line x1="148.50" y1="802.25" x2="148.50" y2="804.05" stroke="#1a1a1a" stroke-width="1"/>
<line x1="78.20" y1="746.50" x2="80.00" y2="746.50" stroke="#1a1a1a" stroke-width="1"/>
<text x="183.2" y="808.5" font-family='"Liberation Sans", sans-serif' font-size="5.2" font-weight="bold" stroke="#111" stroke-width="0.25">10<tspan font-size="3.2" dy="-2">3</tspan></text>
<text transform="translate(77.8,717.6) rotate(-90)" font-family='"Liberation Sans", sans-serif' font-size="5.2" font-weight="bold" stroke="#111" stroke-width="0.25">10<tspan font-size="3.2" dy="-2">3</tspan></text>
<line x1="182.50" y1="802.25" x2="182.50" y2="804.05" stroke="#1a1a1a" stroke-width="1"/>
<line x1="78.20" y1="717.50" x2="80.00" y2="717.50" stroke="#1a1a1a" stroke-width="1"/>
<text x="217.3" y="808.5" font-family='"Liberation Sans", sans-serif' font-size="5.2" font-weight="bold" stroke="#111" stroke-width="0.25">10<tspan font-size="3.2" dy="-2">4</tspan></text>
<text transform="translate(77.8,689.5) rotate(-90)" font-family='"Liberation Sans", sans-serif' font-size="5.2" font-weight="bold" stroke="#111" stroke-width="0.25">10<tspan font-size="3.2" dy="-2">4</tspan></text>
<line x1="216.50" y1="802.25" x2="216.50" y2="804.05" stroke="#1a1a1a" stroke-width="1"/>
<line x1="78.20" y1="689.50" x2="80.00" y2="689.50" stroke="#1a1a1a" stroke-width="1"/>
<path d="M133.3 809.8h3m1.2 0h2.2m1 0h2.6m1.6 0h1.6m0.8 0h1.4" stroke="#333" stroke-width="0.9" fill="none"/>
<rect x="303.5" y="692.5" width="131.0" height="110.0" fill="none" stroke="#161616" stroke-width="1.5"/>
<line x1="335.50" y1="692.00" x2="335.50" y2="802.25" stroke="#1a1a1a" stroke-width="1"/>
<line x1="303.00" y1="775.50" x2="434.50" y2="775.50" stroke="#1a1a1a" stroke-width="1"/>
<path d="M353.2 764.9h1M362.3 750.2h1M358.7 745.5h1M347.9 756.2h1M351.4 765.4h1M353.5 765.6h1M345.6 753.3h1M351.2 764.5h1M350.7 753.2h1M363.9 757.8h1M347.0 765.8h1M354.8 746.9h1M346.6 757.4h1M354.9 765.4h1M344.2 782.6h1M361.7 738.0h1M374.7 757.9h1M365.1 753.4h1M347.0 762.9h1M351.1 748.3h1M363.9 750.8h1M361.1 747.5h1M349.4 764.1h1M352.6 748.8h1M348.5 763.0h1M361.2 748.8h1M346.8 764.3h1M341.9 774.3h1M359.4 771.8h1M346.1 766.3h1M362.6 750.9h1M354.8 764.7h1M344.5 760.7h1M357.3 747.9h1M347.9 759.6h1M366.2 733.2h1M363.0 752.2h1M356.6 765.4h1M350.5 747.4h1M363.4 755.4h1M350.9 764.9h1M361.6 762.1h1M347.9 772.5h1M352.2 766.9h1M363.5 755.2h1M348.9 752.1h1M361.8 749.0h1M356.9 763.9h1M360.0 765.8h1M349.5 740.3h1M355.8 745.1h1M352.5 770.3h1M361.4 760.2h1M348.1 757.1h1M362.0 760.9h1M348.4 770.2h1M363.6 759.0h1M344.4 752.5h1M358.6 748.6h1M355.9 767.4h1M346.4 760.6h1M362.0 749.3h1M356.0 741.8h1M348.4 757.4h1M362.9 751.0h1M347.0 757.2h1M346.4 765.0h1M364.1 757.5h1M365.7 758.7h1M354.9 747.7h1M346.3 765.6h1M347.6 760.6h1M350.1 749.4h1M357.0 764.3h1M364.9 757.9h1M360.7 761.7h1M355.4 748.6h1M351.3 770.0h1M347.6 766.5h1M363.0 756.0h1M346.6 777.0h1M362.2 758.3h1M358.1 764.0h1M347.9 761.7h1M340.3 763.0h1M366.2 741.8h1M361.7 760.0h1M367.3 754.8h1M339.4 771.5h1M352.1 765.4h1M350.1 753.3h1M351.4 764.9h1M358.6 769.9h1M354.3 764.7h1M352.0 767.5h1M346.4 759.4h1M350.7 767.6h1M362.5 758.1h1M361.2 746.5h1M362.0 761.0h1M364.7 761.1h1M350.2 770.6h1M365.0 754.1h1M365.3 748.5h1M364.8 754.9h1M339.8 752.6h1M364.2 755.9h1M353.3 769.1h1M368.6 754.8h1M360.1 747.4h1M367.5 751.4h1M361.5 763.4h1M364.0 762.4h1M363.3 755.0h1M345.1 758.3h1M351.6 749.5h1M346.9 758.7h1M357.9 766.6h1M349.8 768.9h1M351.5 772.9h1M364.7 760.5h1M353.5 768.5h1M355.4 766.2h1M358.6 763.3h1M347.6 763.9h1M359.9 748.0h1M359.0 747.4h1M353.1 750.5h1M336.5 766.4h1M345.0 772.3h1M364.0 763.9h1M363.2 744.9h1M354.4 749.0h1M361.9 750.2h1M359.0 769.6h1M350.2 765.5h1M356.2 768.8h1M346.0 752.9h1M353.0 765.2h1M347.3 759.5h1M348.6 754.3h1M373.2 747.3h1M346.2 761.3h1M359.0 765.0h1M357.4 765.2h1M361.2 764.5h1M362.5 750.6h1M357.0 764.9h1M361.0 749.5h1M362.7 763.3h1M353.2 750.1h1M345.6 764.5h1M347.3 768.0h1M361.7 748.7h1M348.8 762.0h1M361.5 748.8h1M338.3 764.3h1M345.8 761.9h1M346.4 764.1h1M363.4 757.7h1M361.3 760.0h1M364.5 753.1h1M350.9 752.5h1M338.8 769.2h1M350.3 765.2h1M363.6 755.7h1M354.5 748.7h1M351.7 747.9h1M366.8 755.6h1M359.9 739.9h1M366.0 761.0h1M366.5 745.7h1M349.3 771.0h1M362.5 745.7h1M362.7 751.6h1M370.2 749.3h1M345.6 757.4h1M366.0 749.9h1M363.4 755.8h1M356.0 736.5h1M346.1 756.1h1M363.2 757.6h1M354.3 764.8h1M359.5 762.4h1M348.4 764.3h1M351.4 765.0h1M356.7 748.1h1M365.3 754.7h1M351.5 765.6h1M356.0 748.2h1M365.8 746.7h1M362.7 750.1h1M356.9 747.4h1M350.3 749.7h1M367.5 759.4h1M352.6 768.4h1M362.3 759.5h1M364.9 754.5h1M347.6 764.2h1M363.4 754.8h1M364.9 751.1h1M353.0 750.0h1M362.9 757.4h1M351.4 750.8h1M341.9 754.2h1M362.2 750.3h1M345.4 755.5h1M362.2 766.7h1M369.0 754.0h1M343.3 750.9h1M363.8 751.9h1M367.7 745.9h1M361.0 749.2h1M348.8 745.6h1M366.4 757.2h1M359.5 746.8h1M347.9 761.2h1M364.5 754.4h1M344.3 744.3h1M361.5 760.4h1M348.1 752.3h1M352.0 751.7h1M346.4 753.5h1M350.4 752.5h1M345.7 761.7h1M352.0 765.2h1M343.0 771.8h1M357.2 742.7h1M369.7 747.3h1M347.9 757.9h1M369.5 756.5h1M362.4 759.2h1M364.9 753.1h1M349.8 764.4h1M359.2 765.2h1M347.2 762.5h1M358.7 762.7h1M351.3 751.5h1M359.5 764.4h1M361.7 762.1h1M364.8 748.3h1M367.5 747.0h1M342.2 733.2h1M359.6 762.8h1M354.6 748.6h1M347.4 761.8h1M356.3 749.0h1M353.1 765.4h1M348.6 758.2h1M352.3 750.4h1M347.1 764.8h1M361.9 749.6h1M359.3 762.5h1M363.6 753.8h1M346.7 757.0h1M368.2 758.9h1M363.8 752.1h1M351.6 749.0h1M356.0 765.9h1M354.2 768.2h1M367.1 739.6h1M353.5 741.4h1M357.2 763.8h1M361.5 760.0h1M360.5 747.9h1M354.2 775.5h1M348.7 753.8h1M349.7 771.0h1M348.2 752.1h1M361.8 749.6h1M345.6 757.3h1M356.9 768.9h1M372.0 744.4h1M356.4 764.3h1M365.3 750.3h1M363.7 746.1h1M356.7 748.1h1M346.5 762.9h1M349.9 763.8h1M350.4 749.8h1M350.3 768.3h1M351.8 751.9h1M346.1 765.4h1M365.9 750.0h1M345.9 774.7h1M353.5 749.7h1M371.1 743.4h1M360.0 763.4h1M367.6 743.9h1M357.6 744.6h1M348.6 767.6h1M362.4 750.2h1M361.3 748.7h1M363.3 754.0h1M353.8 748.6h1M348.6 757.0h1M340.7 756.6h1M347.9 763.5h1M364.6 751.2h1M362.8 760.6h1M366.5 751.0h1M359.9 763.2h1M352.2 769.6h1M345.3 760.7h1M361.3 764.7h1M350.4 764.9h1M361.9 748.6h1M343.4 758.7h1M355.0 770.5h1M365.1 749.3h1M349.8 754.6h1M363.1 745.3h1M361.0 760.5h1M348.5 762.6h1M361.9 750.3h1M348.4 763.5h1M371.3 765.1h1M358.2 763.4h1M373.8 748.5h1M349.2 753.5h1M354.0 748.9h1M362.4 747.6h1M362.9 756.5h1M363.4 756.1h1M346.2 764.4h1M351.2 765.6h1M358.8 744.5h1M364.7 750.3h1M342.0 754.8h1M363.3 753.1h1M355.7 745.6h1M365.1 746.9h1M349.7 769.9h1M348.5 757.2h1M348.6 763.1h1M349.0 769.9h1M363.7 756.0h1M346.1 755.8h1M363.1 751.2h1M365.7 754.8h1M364.0 747.1h1M353.8 749.3h1M347.6 765.1h1M349.5 763.2h1M360.3 748.2h1M346.0 764.2h1M356.9 766.8h1M359.4 748.1h1M363.3 746.2h1M362.4 750.0h1M351.6 769.7h1M360.8 765.2h1M361.3 743.6h1M348.5 764.0h1M348.4 758.3h1M362.4 758.4h1M365.3 752.2h1M355.1 773.0h1M364.3 750.0h1M350.4 753.1h1M357.1 746.6h1M347.0 753.0h1M367.5 754.6h1M355.7 749.1h1M362.7 747.7h1M365.0 747.7h1M351.1 751.2h1M348.5 768.1h1M352.4 749.7h1M360.5 770.0h1M365.9 755.0h1M346.6 760.4h1M362.6 759.2h1M358.9 775.4h1M352.0 751.3h1M361.0 745.8h1M350.2 764.1h1M351.9 746.8h1M355.3 749.2h1M359.4 762.3h1M360.1 748.9h1M367.6 752.4h1M362.9 757.2h1M349.5 754.3h1M368.3 749.3h1M350.4 764.7h1M358.4 747.0h1M361.8 749.6h1M374.0 752.1h1M349.3 764.5h1M357.6 770.5h1M359.9 763.9h1M361.6 746.1h1M347.7 764.5h1M367.2 752.9h1M359.4 762.8h1M352.5 765.1h1M362.3 748.6h1M351.6 751.1h1M377.3 746.8h1M360.9 742.4h1M349.7 764.3h1M364.0 750.9h1M352.3 766.6h1M343.3 756.4h1M350.7 764.2h1M356.8 766.8h1M361.7 738.7h1M350.5 771.1h1M356.8 748.0h1M357.5 747.3h1M364.5 754.9h1M357.1 764.6h1M346.8 760.2h1M345.6 770.5h1M357.6 764.3h1M363.4 763.9h1M347.6 767.8h1M365.0 744.7h1M356.1 745.8h1M368.8 752.1h1M358.7 746.2h1M358.9 743.1h1M352.8 770.9h1M369.6 751.3h1M343.6 771.7h1M345.1 762.0h1M355.1 764.7h1M351.6 749.4h1M350.7 765.8h1M354.7 769.5h1M358.0 748.0h1M363.8 755.6h1M362.5 759.8h1M366.0 746.1h1M362.7 757.4h1M366.4 748.3h1M354.8 747.8h1M361.0 766.3h1M347.3 759.8h1M348.5 747.0h1M344.1 769.7h1M355.2 765.7h1M365.6 755.0h1M352.4 767.8h1M350.2 750.9h1M355.6 766.1h1M365.4 748.4h1M357.0 747.5h1M340.0 769.3h1M357.2 764.1h1M348.6 757.4h1M347.9 764.4h1M364.6 756.0h1M352.0 767.3h1M357.9 743.8h1M349.6 764.4h1M366.4 746.5h1M364.5 764.6h1M356.0 747.4h1M358.9 766.6h1M359.8 748.2h1M348.8 764.5h1M349.0 755.1h1M346.5 762.3h1M359.2 762.7h1M321.4 752.1h1M367.4 748.7h1M343.0 754.0h1M354.6 769.2h1M357.9 764.7h1M362.0 759.8h1M356.6 766.2h1M362.0 767.8h1M358.6 765.1h1M365.6 752.6h1M350.7 768.0h1M346.9 758.2h1M361.0 748.3h1M349.3 752.9h1M364.8 756.0h1M357.8 748.8h1M347.3 767.5h1M361.7 748.8h1M365.1 750.9h1M357.1 766.7h1M348.1 757.2h1M347.3 767.5h1M345.9 765.7h1M353.4 765.8h1M369.1 759.6h1M350.0 743.5h1M362.8 757.3h1M344.0 764.5h1M352.2 751.0h1M362.6 762.4h1M350.0 765.5h1M363.3 750.7h1M354.5 749.3h1M360.8 745.7h1M362.6 750.2h1M362.9 751.3h1M350.0 752.6h1M351.3 751.7h1M360.6 762.9h1M359.3 764.4h1M364.4 749.9h1M365.9 752.4h1M363.1 757.1h1M361.3 764.6h1M357.5 747.2h1M357.6 747.1h1M355.3 745.8h1M354.8 765.1h1M362.7 761.6h1M344.9 768.4h1M347.1 759.8h1M354.2 742.0h1M360.5 747.1h1M346.1 762.2h1M360.3 765.8h1M356.7 748.5h1M348.5 770.8h1M346.1 763.2h1M359.0 763.8h1M354.7 747.3h1M363.7 754.8h1M348.6 772.1h1M358.6 748.7h1M349.8 751.7h1M356.4 765.5h1M348.9 754.0h1M340.3 763.0h1M358.8 746.6h1M347.1 758.6h1M364.3 744.9h1M355.6 747.9h1M357.4 765.0h1M361.9 746.8h1M352.5 766.1h1M348.4 762.3h1M362.7 751.5h1M352.2 764.9h1M362.3 749.9h1M361.0 749.3h1M346.0 766.4h1M361.4 768.6h1M358.1 765.7h1M357.7 763.6h1M364.3 750.3h1M353.9 769.2h1M364.3 755.9h1M345.8 770.0h1M361.4 763.4h1M362.4 758.0h1M361.7 759.8h1M344.7 760.6h1M363.4 752.6h1M347.9 758.4h1M361.3 764.2h1M360.7 762.4h1M355.4 747.6h1M362.5 749.4h1M367.7 767.0h1M366.5 749.9h1M363.7 753.0h1M348.9 764.7h1M349.8 754.3h1M364.5 760.1h1M350.7 766.4h1M351.7 749.0h1M342.2 758.9h1M355.2 748.2h1M353.3 774.1h1M342.5 754.9h1M363.4 752.0h1M347.5 763.0h1M352.2 764.7h1M347.0 751.6h1M352.0 764.7h1M347.0 762.1h1M347.5 765.5h1M359.9 763.4h1M360.5 771.7h1M360.1 745.6h1M361.6 747.9h1M347.8 772.2h1M351.1 770.0h1M335.3 771.7h1M349.7 765.2h1M347.6 758.6h1M354.5 765.2h1M361.8 747.1h1M370.2 756.4h1M344.7 772.0h1M350.3 764.6h1M357.2 766.4h1M353.1 747.9h1M370.8 755.9h1M367.5 754.9h1M364.1 754.8h1M351.0 745.5h1M363.9 745.7h1M344.5 762.0h1M350.9 752.5h1M365.7 747.6h1M362.4 745.8h1M357.7 764.8h1M366.3 765.4h1M347.4 756.3h1M347.0 769.0h1M354.6 766.6h1M359.4 763.8h1M365.1 754.3h1M367.4 751.7h1M365.3 758.7h1M338.3 751.4h1M367.3 752.8h1M356.3 745.9h1M352.3 765.7h1M351.7 752.0h1M354.2 765.0h1M367.3 761.1h1M351.1 750.4h1M346.5 766.7h1M358.4 764.3h1M363.8 753.7h1M368.3 753.3h1M350.5 752.7h1M364.3 752.0h1M347.5 746.5h1M364.8 745.2h1M368.5 744.2h1M341.3 760.2h1M343.9 775.3h1M347.4 753.6h1M351.0 745.9h1M357.2 764.0h1M344.0 764.9h1M365.2 746.5h1M352.3 766.9h1M360.0 772.5h1M348.3 762.1h1M354.5 747.3h1M363.7 753.7h1M349.9 751.6h1M356.7 748.0h1M349.0 766.6h1M365.7 751.3h1M357.3 742.0h1M365.7 767.5h1M348.4 757.0h1M355.7 738.6h1M360.0 746.2h1M362.5 751.1h1M360.4 748.7h1M346.4 755.7h1M340.2 767.9h1M359.3 763.7h1M347.0 754.3h1M342.7 764.7h1M347.2 758.3h1M360.1 762.7h1M360.1 762.3h1M361.2 760.3h1M364.6 749.2h1M365.3 754.3h1M343.2 764.3h1M358.7 766.5h1M334.5 770.9h1M363.3 762.5h1M353.8 750.1h1M363.6 737.3h1M362.8 761.4h1M356.8 765.6h1M352.1 767.8h1M362.5 751.2h1M353.2 765.5h1M358.1 763.5h1M355.6 765.4h1M331.4 793.1h1M341.5 776.2h1M337.3 790.6h1M335.2 791.2h1M332.8 766.2h1M339.6 795.3h1M343.6 792.4h1M329.3 790.8h1M348.8 775.4h1M334.5 764.8h1M336.3 769.8h1M331.3 786.1h1M360.4 766.4h1M346.3 768.8h1M334.3 792.9h1M335.7 783.2h1M337.1 796.3h1M326.4 792.7h1M329.0 791.7h1M357.0 768.9h1M343.8 763.2h1M325.1 774.0h1M350.0 776.3h1M355.1 771.2h1M343.2 780.1h1M356.0 762.7h1M345.7 768.6h1M338.6 783.2h1M334.0 782.4h1M343.1 765.6h1M350.4 791.7h1M353.3 769.0h1M358.1 775.3h1M328.4 799.0h1M338.4 791.1h1M333.0 787.9h1M323.1 762.7h1M338.5 797.0h1M344.7 787.6h1M342.9 776.9h1M334.9 788.7h1M343.6 769.6h1M333.8 780.4h1M340.8 797.3h1M339.1 792.9h1M337.5 762.1h1M341.1 771.7h1M333.0 801.0h1M345.3 779.1h1M342.6 782.4h1M357.6 764.1h1M339.0 773.5h1M360.1 765.2h1M338.9 792.1h1M335.4 783.4h1M349.2 782.3h1M327.9 793.0h1M333.3 782.0h1M332.4 776.6h1M344.6 777.9h1M330.6 784.7h1M340.3 770.0h1M331.8 780.7h1M340.3 792.9h1M335.8 784.2h1M338.8 769.0h1M340.3 777.0h1M337.3 782.8h1M343.8 768.4h1M348.2 780.3h1M332.9 779.3h1M336.3 788.6h1M363.8 779.2h1M330.5 770.3h1M335.3 794.6h1M353.1 760.3h1M336.6 783.5h1M336.9 770.2h1M338.5 787.4h1M333.8 790.9h1M351.1 774.2h1M335.7 790.0h1M339.0 788.1h1M348.2 766.3h1M356.6 765.4h1M337.6 775.6h1M344.2 767.9h1M340.5 770.5h1M339.1 769.4h1M360.0 771.9h1M337.0 787.6h1M337.6 789.6h1M333.0 781.6h1M344.7 771.8h1M334.7 783.9h1M343.2 776.6h1M346.7 775.2h1M338.8 770.2h1M355.5 756.8h1M346.9 768.0h1M336.8 797.1h1M335.8 766.1h1M327.5 789.7h1M338.8 792.3h1M315.2 794.3h1M343.3 768.3h1M355.1 765.1h1M334.5 779.3h1M341.9 768.5h1M334.8 800.5h1M330.1 787.9h1M352.5 768.4h1M336.0 771.5h1M363.0 780.4h1M352.1 781.7h1M336.7 785.9h1M330.1 795.7h1M327.5 798.4h1M340.9 763.7h1M336.9 781.3h1M322.4 792.2h1M342.9 775.8h1M359.0 770.1h1M329.0 786.4h1M352.7 777.6h1M336.1 794.0h1M344.2 767.1h1M336.6 787.1h1M336.1 769.8h1M343.5 776.1h1M329.9 776.5h1M340.5 788.5h1M323.8 787.5h1M323.0 780.9h1M332.4 788.7h1M355.1 786.8h1M330.6 791.1h1M339.2 799.7h1M356.1 782.6h1M347.6 772.4h1M343.2 779.4h1M331.9 793.8h1M346.8 776.6h1M341.2 786.8h1M341.5 785.4h1M346.0 782.0h1M343.6 775.2h1M336.1 786.1h1M362.6 778.4h1M328.1 776.1h1M345.0 764.1h1M330.5 790.5h1M334.2 798.6h1M343.6 781.2h1M326.6 798.9h1M353.2 782.4h1M340.3 785.1h1M338.6 778.3h1M330.1 789.1h1M356.6 767.0h1M341.6 777.9h1M328.4 795.0h1M347.2 774.6h1M333.6 785.0h1M346.0 772.0h1M334.3 799.4h1M331.0 778.4h1M349.8 764.6h1M335.7 784.5h1M325.0 793.3h1M332.8 796.6h1M337.8 778.0h1M352.1 768.3h1M352.8 775.6h1M336.4 771.9h1M326.8 778.9h1M356.9 763.2h1M352.0 759.0h1M342.4 790.6h1M343.7 771.3h1M334.8 779.3h1M351.2 783.2h1M341.9 791.9h1M346.7 793.7h1M338.0 793.2h1M349.5 769.4h1M340.7 784.8h1M331.8 786.1h1M339.9 790.0h1M349.4 766.3h1M341.1 770.7h1M360.8 773.5h1M349.6 776.1h1M362.5 780.4h1M332.7 783.3h1M339.0 784.1h1M332.1 776.4h1M337.0 772.6h1M336.1 778.1h1M341.4 781.2h1M359.6 767.4h1M342.2 759.4h1M330.3 791.7h1M341.6 766.8h1M338.9 765.8h1M345.1 786.5h1M338.0 772.8h1M345.0 765.2h1M331.9 795.6h1M342.7 795.6h1M351.8 766.2h1M333.1 790.0h1M334.4 777.6h1M341.2 768.0h1M326.4 798.4h1M353.6 771.4h1M341.2 781.1h1M334.9 791.0h1M332.8 768.9h1M333.2 774.5h1M351.0 778.8h1M357.7 774.6h1M337.8 770.7h1M331.5 769.1h1M333.4 770.7h1M354.0 765.4h1M344.3 773.7h1M349.5 781.1h1M355.1 767.4h1M354.6 768.9h1M349.4 788.5h1M342.2 782.1h1M344.4 793.5h1M357.9 766.0h1M340.8 782.2h1M345.8 760.3h1M334.7 793.4h1M340.6 772.4h1M337.0 787.4h1M348.9 789.9h1M341.1 783.3h1M328.2 781.0h1M328.6 782.5h1M362.9 772.5h1M335.5 794.2h1M330.9 788.2h1M324.1 788.4h1M352.5 787.5h1M346.7 777.4h1M333.7 773.0h1M347.0 765.7h1M334.1 774.0h1M359.0 777.5h1M335.9 779.7h1M336.0 779.7h1M333.8 775.4h1M368.5 766.9h1M342.7 789.1h1M334.5 799.4h1M348.6 783.9h1M331.8 801.0h1M338.2 784.6h1M341.8 781.9h1M339.2 788.7h1M340.8 787.4h1M357.1 774.5h1M350.8 768.5h1M332.0 795.1h1M351.2 778.1h1M359.0 778.0h1M363.6 777.1h1M346.2 773.4h1M346.2 761.4h1M340.6 785.2h1M341.9 799.4h1M347.0 756.0h1M324.3 784.1h1M341.2 768.8h1M347.1 785.1h1M341.0 776.3h1M350.5 779.7h1M331.3 793.2h1M349.0 779.6h1M345.7 784.2h1M348.8 782.6h1M328.8 781.3h1M353.2 779.6h1M334.6 797.8h1M335.3 794.6h1M331.2 791.3h1M320.5 798.7h1M346.9 796.8h1M356.0 773.0h1M341.7 765.3h1M321.1 799.5h1M330.7 787.5h1M336.3 775.1h1M331.2 785.2h1M343.4 784.1h1M347.6 775.9h1M334.8 770.6h1M349.8 784.9h1M337.8 783.2h1M342.1 784.3h1M341.4 765.3h1M337.8 782.0h1M338.9 781.5h1M334.1 762.5h1M331.2 793.9h1M330.4 788.8h1M338.6 784.1h1M338.5 770.6h1M345.6 767.6h1M325.8 772.6h1M347.5 779.7h1M337.7 796.6h1M336.6 769.5h1M327.8 785.7h1M334.7 770.3h1M343.2 773.7h1M350.7 765.1h1M339.2 782.0h1M344.8 785.0h1M334.7 779.1h1M351.2 781.1h1M331.8 800.4h1M334.7 784.8h1M333.4 767.4h1M337.1 794.4h1M344.9 779.6h1M327.1 795.0h1M337.4 795.5h1M352.9 773.0h1M333.4 785.8h1M330.8 789.9h1M336.2 787.4h1M333.6 790.7h1M363.6 756.9h1M350.8 759.2h1M348.3 772.5h1M353.4 765.8h1M339.3 768.1h1M328.8 789.8h1M341.3 772.3h1M337.3 789.3h1M334.9 784.7h1M335.6 785.1h1M346.1 776.2h1M343.1 777.2h1M338.2 776.4h1M360.9 773.7h1M347.5 765.7h1M336.9 764.2h1M340.5 778.5h1M344.6 784.7h1M338.1 781.4h1M341.4 790.5h1M342.1 782.4h1M343.4 775.4h1M328.5 787.5h1M359.8 771.6h1M327.3 775.3h1M345.4 775.5h1M341.0 778.1h1M351.0 778.5h1M352.0 768.3h1M351.3 782.1h1M344.8 784.8h1M337.7 774.5h1M324.7 781.5h1M339.2 790.5h1M343.0 781.5h1M342.9 797.1h1M325.4 797.2h1M346.7 766.2h1M347.1 786.6h1M352.3 795.3h1M340.1 775.7h1M352.9 775.6h1M335.6 786.8h1M337.9 765.9h1M349.7 778.7h1M339.3 777.8h1M325.2 790.7h1M342.1 783.0h1M320.4 785.4h1M339.9 784.5h1M339.1 777.1h1M332.3 777.7h1M363.1 768.7h1M325.1 794.3h1M333.4 792.3h1M336.4 779.6h1M348.1 765.8h1M331.9 785.2h1M342.2 782.5h1M351.1 765.7h1M328.9 794.9h1M334.4 779.8h1M346.7 795.4h1M327.1 784.7h1M345.9 771.0h1M341.0 791.7h1M335.4 784.2h1M346.1 782.4h1M343.4 770.0h1M324.0 784.7h1M353.1 763.4h1M329.8 787.9h1M348.1 783.6h1M339.8 776.7h1M351.6 762.0h1M347.1 780.1h1M338.1 778.9h1M340.4 771.8h1M335.4 770.0h1M337.9 792.0h1M350.0 778.6h1M332.2 786.4h1M344.6 793.5h1M353.6 771.7h1M338.3 791.7h1M331.6 785.4h1M332.7 794.1h1M341.7 778.6h1M343.4 778.1h1M333.5 791.8h1M332.1 796.3h1M345.7 770.3h1M347.3 777.2h1M338.4 785.0h1M334.1 784.7h1M334.5 787.2h1M339.0 782.5h1M330.7 791.1h1M333.5 792.8h1M337.2 793.2h1M329.3 795.7h1M340.8 792.5h1M347.1 778.3h1M341.8 788.4h1M355.2 773.4h1M348.5 768.3h1M340.5 782.7h1M347.4 766.3h1M328.7 798.1h1M335.4 798.6h1M341.1 800.6h1M335.1 782.4h1M353.2 767.2h1M333.9 785.2h1M326.8 791.0h1M358.8 763.7h1M322.4 791.7h1M342.9 774.3h1M354.2 785.3h1M319.8 792.5h1M334.3 793.7h1M335.1 780.4h1M360.2 762.1h1M341.0 780.2h1M357.5 763.3h1M370.2 777.9h1M336.8 790.9h1M328.4 787.2h1M330.0 775.2h1M348.9 764.8h1M333.6 789.7h1M328.4 787.1h1M332.2 768.7h1M355.0 765.3h1M346.1 779.1h1M323.8 781.0h1M317.4 780.1h1M354.2 772.3h1M350.5 778.7h1M360.1 762.6h1M329.7 784.6h1M331.9 796.4h1M335.8 769.3h1M338.2 793.2h1M340.4 777.7h1M349.8 770.8h1M335.8 780.5h1M326.3 788.7h1M326.7 787.7h1M326.3 784.0h1M344.5 787.0h1M332.9 781.1h1M336.8 779.9h1M346.7 776.5h1M349.6 759.7h1M335.3 776.8h1M363.3 773.6h1M330.4 799.5h1M360.4 779.2h1M334.2 794.9h1M338.9 781.6h1M344.3 786.3h1M335.4 789.9h1M350.3 783.1h1M343.1 781.1h1M347.5 791.8h1M322.3 787.7h1M329.9 792.3h1M333.8 785.5h1M331.7 791.2h1M340.1 777.7h1M330.1 778.8h1M345.8 766.3h1M337.3 792.9h1M351.4 750.6h1M333.8 765.2h1M346.8 745.0h1M370.9 756.3h1M347.3 751.6h1M349.3 773.0h1M381.3 745.0h1M358.9 773.4h1M353.6 778.9h1M369.3 763.9h1M393.0 727.0h1M395.0 733.0h1M391.0 742.0h1M392.0 746.0h1M385.0 740.0h1M375.0 747.0h1M399.0 725.0h1M312.0 754.0h1M378.0 744.0h1" stroke="#111" stroke-width="1.1" fill="none"/>
<ellipse cx="355.8" cy="756.8" rx="8.0" ry="10.2" transform="rotate(25 355.8 756.8)" fill="#0a0a0a"/>
<text x="305.75" y="707.00" font-family='"Liberation Serif", serif' font-size="14" font-weight="normal" text-anchor="start" textLength="29.3" lengthAdjust="spacingAndGlyphs" stroke="#111" stroke-width="0.31">0.5%</text>
<text x="392.00" y="707.00" font-family='"Liberation Serif", serif' font-size="14" font-weight="normal" text-anchor="start" textLength="39.3" lengthAdjust="spacingAndGlyphs" stroke="#111" stroke-width="0.31">95.8%</text>
<text x="308.25" y="800.50" font-family='"Liberation Serif", serif' font-size="14" font-weight="normal" text-anchor="start" textLength="31.3" lengthAdjust="spacingAndGlyphs" stroke="#111" stroke-width="0.31">2.2%</text>
<text x="399.50" y="800.50" font-family='"Liberation Serif", serif' font-size="14" font-weight="normal" text-anchor="start" textLength="31.3" lengthAdjust="spacingAndGlyphs" stroke="#111" stroke-width="0.31">0.9%</text>
<text x="344.50" y="675.60" font-family='"Liberation Serif", serif' font-size="19" font-weight="normal" text-anchor="start" textLength="38.5" lengthAdjust="spacingAndGlyphs" stroke="#111" stroke-width="0.42">After</text>
<text transform="translate(279.60,748.10) rotate(-90)" font-family='"Liberation Serif", serif' font-size="15" font-weight="normal" text-anchor="middle" stroke="#111" stroke-width="0.4" textLength="66.5" lengthAdjust="spacingAndGlyphs">CD34<tspan font-size="6.5" dy="-5.5">+</tspan><tspan dy="5.5">(PE)</tspan></text>
<text x="327.5" y="833.5" font-family='"Liberation Serif", serif' font-size="14" textLength="91" lengthAdjust="spacingAndGlyphs">CXCR3<tspan font-size="6.5" dy="-5.5">+</tspan><tspan dy="5.5">(FITC)</tspan></text>
<text x="303.6" y="808.5" font-family='"Liberation Sans", sans-serif' font-size="5.2" font-weight="bold" stroke="#111" stroke-width="0.25">10<tspan font-size="3.2" dy="-2">0</tspan></text>
<text transform="translate(300.8,802.0) rotate(-90)" font-family='"Liberation Sans", sans-serif' font-size="5.2" font-weight="bold" stroke="#111" stroke-width="0.25">10<tspan font-size="3.2" dy="-2">0</tspan></text>
<line x1="303.50" y1="802.25" x2="303.50" y2="804.05" stroke="#1a1a1a" stroke-width="1"/>
<line x1="301.20" y1="802.50" x2="303.00" y2="802.50" stroke="#1a1a1a" stroke-width="1"/>
<text x="336.5" y="808.5" font-family='"Liberation Sans", sans-serif' font-size="5.2" font-weight="bold" stroke="#111" stroke-width="0.25">10<tspan font-size="3.2" dy="-2">1</tspan></text>
<text transform="translate(300.8,774.4) rotate(-90)" font-family='"Liberation Sans", sans-serif' font-size="5.2" font-weight="bold" stroke="#111" stroke-width="0.25">10<tspan font-size="3.2" dy="-2">1</tspan></text>
<line x1="335.50" y1="802.25" x2="335.50" y2="804.05" stroke="#1a1a1a" stroke-width="1"/>
<line x1="301.20" y1="774.50" x2="303.00" y2="774.50" stroke="#1a1a1a" stroke-width="1"/>
<text x="369.4" y="808.5" font-family='"Liberation Sans", sans-serif' font-size="5.2" font-weight="bold" stroke="#111" stroke-width="0.25">10<tspan font-size="3.2" dy="-2">2</tspan></text>
<text transform="translate(300.8,746.8) rotate(-90)" font-family='"Liberation Sans", sans-serif' font-size="5.2" font-weight="bold" stroke="#111" stroke-width="0.25">10<tspan font-size="3.2" dy="-2">2</tspan></text>
<line x1="368.50" y1="802.25" x2="368.50" y2="804.05" stroke="#1a1a1a" stroke-width="1"/>
<line x1="301.20" y1="747.50" x2="303.00" y2="747.50" stroke="#1a1a1a" stroke-width="1"/>
<text x="402.2" y="808.5" font-family='"Liberation Sans", sans-serif' font-size="5.2" font-weight="bold" stroke="#111" stroke-width="0.25">10<tspan font-size="3.2" dy="-2">3</tspan></text>
<text transform="translate(300.8,719.3) rotate(-90)" font-family='"Liberation Sans", sans-serif' font-size="5.2" font-weight="bold" stroke="#111" stroke-width="0.25">10<tspan font-size="3.2" dy="-2">3</tspan></text>
<line x1="401.50" y1="802.25" x2="401.50" y2="804.05" stroke="#1a1a1a" stroke-width="1"/>
<line x1="301.20" y1="719.50" x2="303.00" y2="719.50" stroke="#1a1a1a" stroke-width="1"/>
<text x="435.1" y="808.5" font-family='"Liberation Sans", sans-serif' font-size="5.2" font-weight="bold" stroke="#111" stroke-width="0.25">10<tspan font-size="3.2" dy="-2">4</tspan></text>
<text transform="translate(300.8,691.7) rotate(-90)" font-family='"Liberation Sans", sans-serif' font-size="5.2" font-weight="bold" stroke="#111" stroke-width="0.25">10<tspan font-size="3.2" dy="-2">4</tspan></text>
<line x1="434.50" y1="802.25" x2="434.50" y2="804.05" stroke="#1a1a1a" stroke-width="1"/>
<line x1="301.20" y1="692.50" x2="303.00" y2="692.50" stroke="#1a1a1a" stroke-width="1"/>
<path d="M354.3 809.8h3m1.2 0h2.2m1 0h2.6m1.6 0h1.6m0.8 0h1.4" stroke="#333" stroke-width="0.9" fill="none"/>
</svg></body></html>
